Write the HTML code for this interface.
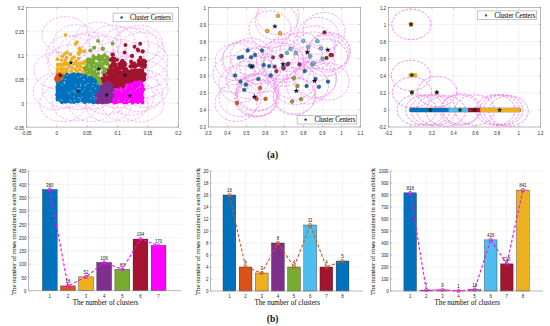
<!DOCTYPE html>
<html><head><meta charset="utf-8"><style>
html,body{margin:0;padding:0;background:#fff;width:550px;height:326px;overflow:hidden}
svg{display:block}
</style></head><body>
<svg width="550" height="326" viewBox="0 0 550 326">
<defs><clipPath id="c1"><rect x="26.4" y="7.4" width="152" height="119.7"/></clipPath><clipPath id="c2"><rect x="208.3" y="7.4" width="152.2" height="119.6"/></clipPath><clipPath id="c3"><rect x="388.5" y="7.4" width="152" height="119.6"/></clipPath></defs>
<rect width="550" height="326" fill="#fff"/>
<line x1="56.8" y1="7.4" x2="56.8" y2="127.1" stroke="#e6e6e6" stroke-width="0.5" />
<line x1="87.2" y1="7.4" x2="87.2" y2="127.1" stroke="#e6e6e6" stroke-width="0.5" />
<line x1="117.6" y1="7.4" x2="117.6" y2="127.1" stroke="#e6e6e6" stroke-width="0.5" />
<line x1="148" y1="7.4" x2="148" y2="127.1" stroke="#e6e6e6" stroke-width="0.5" />
<line x1="26.4" y1="103.16" x2="178.4" y2="103.16" stroke="#e6e6e6" stroke-width="0.5" />
<line x1="26.4" y1="79.22" x2="178.4" y2="79.22" stroke="#e6e6e6" stroke-width="0.5" />
<line x1="26.4" y1="55.28" x2="178.4" y2="55.28" stroke="#e6e6e6" stroke-width="0.5" />
<line x1="26.4" y1="31.34" x2="178.4" y2="31.34" stroke="#e6e6e6" stroke-width="0.5" />
<line x1="227.33" y1="7.4" x2="227.33" y2="127" stroke="#e6e6e6" stroke-width="0.5" />
<line x1="246.35" y1="7.4" x2="246.35" y2="127" stroke="#e6e6e6" stroke-width="0.5" />
<line x1="265.38" y1="7.4" x2="265.38" y2="127" stroke="#e6e6e6" stroke-width="0.5" />
<line x1="284.4" y1="7.4" x2="284.4" y2="127" stroke="#e6e6e6" stroke-width="0.5" />
<line x1="303.43" y1="7.4" x2="303.43" y2="127" stroke="#e6e6e6" stroke-width="0.5" />
<line x1="322.45" y1="7.4" x2="322.45" y2="127" stroke="#e6e6e6" stroke-width="0.5" />
<line x1="341.48" y1="7.4" x2="341.48" y2="127" stroke="#e6e6e6" stroke-width="0.5" />
<line x1="208.3" y1="109.91" x2="360.5" y2="109.91" stroke="#e6e6e6" stroke-width="0.5" />
<line x1="208.3" y1="92.83" x2="360.5" y2="92.83" stroke="#e6e6e6" stroke-width="0.5" />
<line x1="208.3" y1="75.74" x2="360.5" y2="75.74" stroke="#e6e6e6" stroke-width="0.5" />
<line x1="208.3" y1="58.66" x2="360.5" y2="58.66" stroke="#e6e6e6" stroke-width="0.5" />
<line x1="208.3" y1="41.57" x2="360.5" y2="41.57" stroke="#e6e6e6" stroke-width="0.5" />
<line x1="208.3" y1="24.49" x2="360.5" y2="24.49" stroke="#e6e6e6" stroke-width="0.5" />
<line x1="410.21" y1="7.4" x2="410.21" y2="127" stroke="#e6e6e6" stroke-width="0.5" />
<line x1="431.93" y1="7.4" x2="431.93" y2="127" stroke="#e6e6e6" stroke-width="0.5" />
<line x1="453.64" y1="7.4" x2="453.64" y2="127" stroke="#e6e6e6" stroke-width="0.5" />
<line x1="475.36" y1="7.4" x2="475.36" y2="127" stroke="#e6e6e6" stroke-width="0.5" />
<line x1="497.07" y1="7.4" x2="497.07" y2="127" stroke="#e6e6e6" stroke-width="0.5" />
<line x1="518.79" y1="7.4" x2="518.79" y2="127" stroke="#e6e6e6" stroke-width="0.5" />
<line x1="388.5" y1="109.91" x2="540.5" y2="109.91" stroke="#e6e6e6" stroke-width="0.5" />
<line x1="388.5" y1="92.83" x2="540.5" y2="92.83" stroke="#e6e6e6" stroke-width="0.5" />
<line x1="388.5" y1="75.74" x2="540.5" y2="75.74" stroke="#e6e6e6" stroke-width="0.5" />
<line x1="388.5" y1="58.66" x2="540.5" y2="58.66" stroke="#e6e6e6" stroke-width="0.5" />
<line x1="388.5" y1="41.57" x2="540.5" y2="41.57" stroke="#e6e6e6" stroke-width="0.5" />
<line x1="388.5" y1="24.49" x2="540.5" y2="24.49" stroke="#e6e6e6" stroke-width="0.5" />
<g clip-path="url(#c1)">
<ellipse cx="65.32" cy="34.9" rx="23.2" ry="18.3" fill="none" stroke="#f296f2" stroke-width="0.7" stroke-dasharray="2.6,1.4"/>
<ellipse cx="76.43" cy="42.94" rx="23.2" ry="18.3" fill="none" stroke="#f296f2" stroke-width="0.7" stroke-dasharray="2.6,1.4"/>
<ellipse cx="97.62" cy="40.38" rx="23.2" ry="18.3" fill="none" stroke="#f296f2" stroke-width="0.7" stroke-dasharray="2.6,1.4"/>
<ellipse cx="112.14" cy="43.52" rx="23.2" ry="18.3" fill="none" stroke="#f296f2" stroke-width="0.7" stroke-dasharray="2.6,1.4"/>
<ellipse cx="125.27" cy="45.17" rx="23.2" ry="18.3" fill="none" stroke="#f296f2" stroke-width="0.7" stroke-dasharray="2.6,1.4"/>
<ellipse cx="139.22" cy="43.51" rx="23.2" ry="18.3" fill="none" stroke="#f296f2" stroke-width="0.7" stroke-dasharray="2.6,1.4"/>
<ellipse cx="135.22" cy="46.28" rx="23.2" ry="18.3" fill="none" stroke="#f296f2" stroke-width="0.7" stroke-dasharray="2.6,1.4"/>
<ellipse cx="90.41" cy="50.38" rx="23.2" ry="18.3" fill="none" stroke="#f296f2" stroke-width="0.7" stroke-dasharray="2.6,1.4"/>
<ellipse cx="69.57" cy="53.98" rx="23.2" ry="18.3" fill="none" stroke="#f296f2" stroke-width="0.7" stroke-dasharray="2.6,1.4"/>
<ellipse cx="81.59" cy="52.54" rx="23.2" ry="18.3" fill="none" stroke="#f296f2" stroke-width="0.7" stroke-dasharray="2.6,1.4"/>
<ellipse cx="103.32" cy="54.13" rx="23.2" ry="18.3" fill="none" stroke="#f296f2" stroke-width="0.7" stroke-dasharray="2.6,1.4"/>
<ellipse cx="120.74" cy="57.88" rx="23.2" ry="18.3" fill="none" stroke="#f296f2" stroke-width="0.7" stroke-dasharray="2.6,1.4"/>
<ellipse cx="141.12" cy="50.78" rx="23.2" ry="18.3" fill="none" stroke="#f296f2" stroke-width="0.7" stroke-dasharray="2.6,1.4"/>
<ellipse cx="57.28" cy="70.47" rx="23.2" ry="18.3" fill="none" stroke="#f296f2" stroke-width="0.7" stroke-dasharray="2.6,1.4"/>
<ellipse cx="56.22" cy="91.45" rx="23.2" ry="18.3" fill="none" stroke="#f296f2" stroke-width="0.7" stroke-dasharray="2.6,1.4"/>
<ellipse cx="62.92" cy="103.48" rx="23.2" ry="18.3" fill="none" stroke="#f296f2" stroke-width="0.7" stroke-dasharray="2.6,1.4"/>
<ellipse cx="75.31" cy="102.67" rx="23.2" ry="18.3" fill="none" stroke="#f296f2" stroke-width="0.7" stroke-dasharray="2.6,1.4"/>
<ellipse cx="91.7" cy="103.35" rx="23.2" ry="18.3" fill="none" stroke="#f296f2" stroke-width="0.7" stroke-dasharray="2.6,1.4"/>
<ellipse cx="108.23" cy="103.7" rx="23.2" ry="18.3" fill="none" stroke="#f296f2" stroke-width="0.7" stroke-dasharray="2.6,1.4"/>
<ellipse cx="124.64" cy="103.04" rx="23.2" ry="18.3" fill="none" stroke="#f296f2" stroke-width="0.7" stroke-dasharray="2.6,1.4"/>
<ellipse cx="140.48" cy="103.49" rx="23.2" ry="18.3" fill="none" stroke="#f296f2" stroke-width="0.7" stroke-dasharray="2.6,1.4"/>
<ellipse cx="144.52" cy="59.95" rx="23.2" ry="18.3" fill="none" stroke="#f296f2" stroke-width="0.7" stroke-dasharray="2.6,1.4"/>
<ellipse cx="144.57" cy="70.42" rx="23.2" ry="18.3" fill="none" stroke="#f296f2" stroke-width="0.7" stroke-dasharray="2.6,1.4"/>
<ellipse cx="144.83" cy="79.25" rx="23.2" ry="18.3" fill="none" stroke="#f296f2" stroke-width="0.7" stroke-dasharray="2.6,1.4"/>
<ellipse cx="144.74" cy="89.01" rx="23.2" ry="18.3" fill="none" stroke="#f296f2" stroke-width="0.7" stroke-dasharray="2.6,1.4"/>
<ellipse cx="78.53" cy="91.17" rx="23.2" ry="18.3" fill="none" stroke="#f296f2" stroke-width="0.7" stroke-dasharray="2.6,1.4"/>
<ellipse cx="107" cy="95.93" rx="23.2" ry="18.3" fill="none" stroke="#f296f2" stroke-width="0.7" stroke-dasharray="2.6,1.4"/>
<ellipse cx="125.14" cy="74.84" rx="23.2" ry="18.3" fill="none" stroke="#f296f2" stroke-width="0.7" stroke-dasharray="2.6,1.4"/>
<ellipse cx="130.57" cy="96.75" rx="23.2" ry="18.3" fill="none" stroke="#f296f2" stroke-width="0.7" stroke-dasharray="2.6,1.4"/>
<ellipse cx="99.21" cy="68.76" rx="23.2" ry="18.3" fill="none" stroke="#f296f2" stroke-width="0.7" stroke-dasharray="2.6,1.4"/>
<ellipse cx="70.9" cy="62.92" rx="23.2" ry="18.3" fill="none" stroke="#f296f2" stroke-width="0.7" stroke-dasharray="2.6,1.4"/>
<ellipse cx="88.45" cy="79.59" rx="23.2" ry="18.3" fill="none" stroke="#f296f2" stroke-width="0.7" stroke-dasharray="2.6,1.4"/>
<ellipse cx="114.78" cy="70.11" rx="23.2" ry="18.3" fill="none" stroke="#f296f2" stroke-width="0.7" stroke-dasharray="2.6,1.4"/>
<ellipse cx="134.77" cy="84.64" rx="23.2" ry="18.3" fill="none" stroke="#f296f2" stroke-width="0.7" stroke-dasharray="2.6,1.4"/>
<ellipse cx="65.57" cy="89.7" rx="23.2" ry="18.3" fill="none" stroke="#f296f2" stroke-width="0.7" stroke-dasharray="2.6,1.4"/>
<ellipse cx="92" cy="90.89" rx="23.2" ry="18.3" fill="none" stroke="#f296f2" stroke-width="0.7" stroke-dasharray="2.6,1.4"/>
<ellipse cx="117.37" cy="89.61" rx="23.2" ry="18.3" fill="none" stroke="#f296f2" stroke-width="0.7" stroke-dasharray="2.6,1.4"/>
<ellipse cx="139.29" cy="93.15" rx="23.2" ry="18.3" fill="none" stroke="#f296f2" stroke-width="0.7" stroke-dasharray="2.6,1.4"/>
</g>
<polygon points="106,80 110,73 120,71 135,69 144,68 144.5,81.5 136,82 133,83.5 126,84.5 125,87 120,88.5 115,88.5 113,86 110,83.5" fill="#A2142F"/>
<polygon points="57.3,88 57.5,83 59,81 61,80 62.5,78 64,75.5 68,74 75,73.3 82,73.3 86,74.5 90,76.5 94,79.5 97,81.5 99.3,84 99,88 97.5,95 96.5,100 96.5,102.3 60,102.3 58,101 57.3,99" fill="#0072BD"/>
<polygon points="96.5,102.8 96.5,99 97.5,93 99,87 100,84 104,83.3 110,83.5 113,86 115,88.5 114,92 113,97 113,102.8" fill="#7E2F8E"/>
<polygon points="113,102.8 113,97 114,92 115,89 120,88.5 125,87 126,84.5 133,83.5 136,82 142,81.5 143.3,83 143.5,93 143.3,102.8" fill="#FF00FF"/>
<polygon points="55.5,76 57,73.5 60,72.5 62.5,73.5 63,75.5 61.5,78 60,80 58,81.5 56,83.5 55.3,81" fill="#D95319"/>
<circle cx="79.8" cy="48.9" r="1.85" fill="#EDB120"/>
<circle cx="79.8" cy="51.4" r="1.85" fill="#EDB120"/>
<circle cx="84.5" cy="51.4" r="1.85" fill="#EDB120"/>
<circle cx="78.9" cy="54" r="1.85" fill="#EDB120"/>
<circle cx="66.9" cy="52.3" r="1.85" fill="#EDB120"/>
<circle cx="64.7" cy="54" r="1.85" fill="#EDB120"/>
<circle cx="70.3" cy="54.4" r="1.85" fill="#EDB120"/>
<circle cx="62.2" cy="56.2" r="1.85" fill="#EDB120"/>
<circle cx="57.4" cy="59.2" r="1.85" fill="#EDB120"/>
<circle cx="74.2" cy="57" r="1.85" fill="#EDB120"/>
<circle cx="72" cy="58.7" r="1.85" fill="#EDB120"/>
<circle cx="66.5" cy="57.5" r="1.85" fill="#EDB120"/>
<circle cx="61.7" cy="60" r="1.85" fill="#EDB120"/>
<circle cx="65.2" cy="60.5" r="1.85" fill="#EDB120"/>
<circle cx="75.9" cy="61.3" r="1.85" fill="#EDB120"/>
<circle cx="74.2" cy="63.9" r="1.85" fill="#EDB120"/>
<circle cx="78.9" cy="63.9" r="1.85" fill="#EDB120"/>
<circle cx="81.5" cy="63" r="1.85" fill="#EDB120"/>
<circle cx="57.9" cy="66" r="1.85" fill="#EDB120"/>
<circle cx="61.7" cy="65.2" r="1.85" fill="#EDB120"/>
<circle cx="65.2" cy="64.3" r="1.85" fill="#EDB120"/>
<circle cx="67.7" cy="64.8" r="1.85" fill="#EDB120"/>
<circle cx="69.9" cy="66.5" r="1.85" fill="#EDB120"/>
<circle cx="72.5" cy="67.8" r="1.85" fill="#EDB120"/>
<circle cx="77.2" cy="66.5" r="1.85" fill="#EDB120"/>
<circle cx="80.6" cy="66.5" r="1.85" fill="#EDB120"/>
<circle cx="83.6" cy="67.8" r="1.85" fill="#EDB120"/>
<circle cx="57.4" cy="69.5" r="1.85" fill="#EDB120"/>
<circle cx="60.9" cy="68.6" r="1.85" fill="#EDB120"/>
<circle cx="64.3" cy="68.6" r="1.85" fill="#EDB120"/>
<circle cx="67.3" cy="69" r="1.85" fill="#EDB120"/>
<circle cx="75.5" cy="69.5" r="1.85" fill="#EDB120"/>
<circle cx="79.8" cy="69.5" r="1.85" fill="#EDB120"/>
<circle cx="84.5" cy="70.8" r="1.85" fill="#EDB120"/>
<circle cx="57.4" cy="72" r="1.85" fill="#EDB120"/>
<circle cx="61.3" cy="71.6" r="1.85" fill="#EDB120"/>
<circle cx="66" cy="71.6" r="1.85" fill="#EDB120"/>
<circle cx="71.2" cy="71.2" r="1.85" fill="#EDB120"/>
<circle cx="77.2" cy="71.6" r="1.85" fill="#EDB120"/>
<circle cx="84.5" cy="72.9" r="1.85" fill="#EDB120"/>
<circle cx="65.4" cy="34.8" r="1.85" fill="#EDB120"/>
<circle cx="75.5" cy="43.8" r="1.85" fill="#EDB120"/>
<circle cx="76.9" cy="42.2" r="1.85" fill="#EDB120"/>
<circle cx="79.6" cy="48.7" r="1.85" fill="#EDB120"/>
<circle cx="81" cy="51.2" r="1.85" fill="#EDB120"/>
<circle cx="84.2" cy="51.2" r="1.85" fill="#EDB120"/>
<circle cx="78.3" cy="53.6" r="1.85" fill="#EDB120"/>
<circle cx="62.64" cy="70.17" r="1.85" fill="#EDB120"/>
<circle cx="64.85" cy="73.23" r="1.85" fill="#EDB120"/>
<circle cx="70.87" cy="61" r="1.85" fill="#EDB120"/>
<circle cx="62.7" cy="64.67" r="1.85" fill="#EDB120"/>
<circle cx="75.96" cy="73.18" r="1.85" fill="#EDB120"/>
<circle cx="60.39" cy="64.3" r="1.85" fill="#EDB120"/>
<circle cx="62.39" cy="73.59" r="1.85" fill="#EDB120"/>
<circle cx="57.8" cy="64.29" r="1.85" fill="#EDB120"/>
<circle cx="82.95" cy="72.14" r="1.85" fill="#EDB120"/>
<circle cx="83.95" cy="63.27" r="1.85" fill="#EDB120"/>
<circle cx="61.57" cy="72.97" r="1.85" fill="#EDB120"/>
<circle cx="78.39" cy="58.51" r="1.85" fill="#EDB120"/>
<circle cx="75.93" cy="64.06" r="1.85" fill="#EDB120"/>
<circle cx="67.22" cy="63.31" r="1.85" fill="#EDB120"/>
<circle cx="64.39" cy="63.62" r="1.85" fill="#EDB120"/>
<circle cx="84.93" cy="61.32" r="1.85" fill="#EDB120"/>
<circle cx="98" cy="40.9" r="1.95" fill="#77AC30"/>
<circle cx="112.7" cy="43.5" r="1.95" fill="#77AC30"/>
<circle cx="94" cy="47.6" r="1.95" fill="#77AC30"/>
<circle cx="90.3" cy="50.4" r="1.95" fill="#77AC30"/>
<circle cx="102.9" cy="48.7" r="1.95" fill="#77AC30"/>
<circle cx="102.6" cy="48.6" r="1.95" fill="#77AC30"/>
<circle cx="96.2" cy="57.9" r="1.95" fill="#77AC30"/>
<circle cx="104.6" cy="55.3" r="1.95" fill="#77AC30"/>
<circle cx="107.2" cy="57.3" r="1.95" fill="#77AC30"/>
<circle cx="94.3" cy="47.6" r="1.95" fill="#77AC30"/>
<circle cx="93.08" cy="59.45" r="1.95" fill="#77AC30"/>
<circle cx="101.75" cy="57.14" r="1.95" fill="#77AC30"/>
<circle cx="98.7" cy="65.79" r="1.95" fill="#77AC30"/>
<circle cx="86.04" cy="69.97" r="1.95" fill="#77AC30"/>
<circle cx="85.49" cy="67.79" r="1.95" fill="#77AC30"/>
<circle cx="95.75" cy="79.39" r="1.95" fill="#77AC30"/>
<circle cx="87.78" cy="61.59" r="1.95" fill="#77AC30"/>
<circle cx="101.13" cy="82.96" r="1.95" fill="#77AC30"/>
<circle cx="99.79" cy="66.7" r="1.95" fill="#77AC30"/>
<circle cx="107.25" cy="63.54" r="1.95" fill="#77AC30"/>
<circle cx="89.29" cy="72.16" r="1.95" fill="#77AC30"/>
<circle cx="101.43" cy="65.99" r="1.95" fill="#77AC30"/>
<circle cx="99.02" cy="56.85" r="1.95" fill="#77AC30"/>
<circle cx="102.53" cy="67.61" r="1.95" fill="#77AC30"/>
<circle cx="92.82" cy="72.27" r="1.95" fill="#77AC30"/>
<circle cx="96.51" cy="63.84" r="1.95" fill="#77AC30"/>
<circle cx="90.97" cy="71.95" r="1.95" fill="#77AC30"/>
<circle cx="98.42" cy="80.82" r="1.95" fill="#77AC30"/>
<circle cx="103.83" cy="63.49" r="1.95" fill="#77AC30"/>
<circle cx="95.58" cy="77.34" r="1.95" fill="#77AC30"/>
<circle cx="88.53" cy="69.42" r="1.95" fill="#77AC30"/>
<circle cx="104.76" cy="71.9" r="1.95" fill="#77AC30"/>
<circle cx="107.7" cy="64.26" r="1.95" fill="#77AC30"/>
<circle cx="102.93" cy="72.53" r="1.95" fill="#77AC30"/>
<circle cx="99.87" cy="68.46" r="1.95" fill="#77AC30"/>
<circle cx="97.06" cy="74.59" r="1.95" fill="#77AC30"/>
<circle cx="106.28" cy="63.4" r="1.95" fill="#77AC30"/>
<circle cx="94.72" cy="74.73" r="1.95" fill="#77AC30"/>
<circle cx="85.1" cy="68.62" r="1.95" fill="#77AC30"/>
<circle cx="87.93" cy="62.3" r="1.95" fill="#77AC30"/>
<circle cx="86.64" cy="68.25" r="1.95" fill="#77AC30"/>
<circle cx="99.06" cy="81.06" r="1.95" fill="#77AC30"/>
<circle cx="91.88" cy="67.25" r="1.95" fill="#77AC30"/>
<circle cx="109.88" cy="59.45" r="1.95" fill="#77AC30"/>
<circle cx="89.17" cy="61.84" r="1.95" fill="#77AC30"/>
<circle cx="90.68" cy="69.31" r="1.95" fill="#77AC30"/>
<circle cx="100.11" cy="62.75" r="1.95" fill="#77AC30"/>
<circle cx="94.29" cy="71.71" r="1.95" fill="#77AC30"/>
<circle cx="98.16" cy="73.22" r="1.95" fill="#77AC30"/>
<circle cx="102.42" cy="56.59" r="1.95" fill="#77AC30"/>
<circle cx="94.9" cy="66.77" r="1.95" fill="#77AC30"/>
<circle cx="87.24" cy="73.71" r="1.95" fill="#77AC30"/>
<circle cx="90.03" cy="59.79" r="1.95" fill="#77AC30"/>
<circle cx="93.51" cy="56.55" r="1.95" fill="#77AC30"/>
<circle cx="87.19" cy="65.73" r="1.95" fill="#77AC30"/>
<circle cx="100.77" cy="59.38" r="1.95" fill="#77AC30"/>
<circle cx="91.18" cy="65.25" r="1.95" fill="#77AC30"/>
<circle cx="94.15" cy="58.62" r="1.95" fill="#77AC30"/>
<circle cx="96.85" cy="69.27" r="1.95" fill="#77AC30"/>
<circle cx="93.58" cy="62.81" r="1.95" fill="#77AC30"/>
<circle cx="106.46" cy="59.76" r="1.95" fill="#77AC30"/>
<circle cx="98.5" cy="59.32" r="1.95" fill="#77AC30"/>
<circle cx="98.89" cy="55.8" r="1.95" fill="#77AC30"/>
<circle cx="91.42" cy="65.82" r="1.95" fill="#77AC30"/>
<circle cx="98.61" cy="77.98" r="1.95" fill="#77AC30"/>
<circle cx="93.24" cy="61.58" r="1.95" fill="#77AC30"/>
<circle cx="90.51" cy="70.27" r="1.95" fill="#77AC30"/>
<circle cx="91.37" cy="75.43" r="1.95" fill="#77AC30"/>
<circle cx="109.85" cy="68.19" r="1.95" fill="#77AC30"/>
<circle cx="109.81" cy="65.76" r="1.95" fill="#77AC30"/>
<circle cx="90.34" cy="61.69" r="1.95" fill="#77AC30"/>
<circle cx="89.71" cy="61.03" r="1.95" fill="#77AC30"/>
<circle cx="101.04" cy="81.56" r="1.95" fill="#77AC30"/>
<circle cx="106.77" cy="69.14" r="1.95" fill="#77AC30"/>
<circle cx="101.8" cy="78.59" r="1.95" fill="#77AC30"/>
<circle cx="86.75" cy="74.49" r="1.95" fill="#77AC30"/>
<circle cx="104.38" cy="69.1" r="1.95" fill="#77AC30"/>
<circle cx="93.31" cy="78.62" r="1.95" fill="#77AC30"/>
<circle cx="103.71" cy="60.02" r="1.95" fill="#77AC30"/>
<circle cx="87.87" cy="59.46" r="1.95" fill="#77AC30"/>
<circle cx="93.79" cy="71.19" r="1.95" fill="#77AC30"/>
<circle cx="98.45" cy="82.54" r="1.95" fill="#77AC30"/>
<circle cx="96" cy="80.72" r="1.95" fill="#77AC30"/>
<circle cx="106.39" cy="61.23" r="1.95" fill="#77AC30"/>
<circle cx="91.17" cy="63.64" r="1.95" fill="#77AC30"/>
<circle cx="125.5" cy="45" r="1.95" fill="#A2142F"/>
<circle cx="134.5" cy="46.8" r="1.95" fill="#A2142F"/>
<circle cx="140.2" cy="43.8" r="1.95" fill="#A2142F"/>
<circle cx="137.7" cy="49.5" r="1.95" fill="#A2142F"/>
<circle cx="142.7" cy="51.2" r="1.95" fill="#A2142F"/>
<circle cx="124.6" cy="52.5" r="1.95" fill="#A2142F"/>
<circle cx="132" cy="55.8" r="1.95" fill="#A2142F"/>
<circle cx="112.4" cy="54.5" r="1.95" fill="#A2142F"/>
<circle cx="113.2" cy="58.6" r="1.95" fill="#A2142F"/>
<circle cx="113" cy="54.7" r="1.95" fill="#A2142F"/>
<circle cx="112.3" cy="58.5" r="1.95" fill="#A2142F"/>
<circle cx="113" cy="65.6" r="1.95" fill="#A2142F"/>
<circle cx="111.7" cy="69.5" r="1.95" fill="#A2142F"/>
<circle cx="104.6" cy="75.3" r="1.95" fill="#A2142F"/>
<circle cx="102.6" cy="78.5" r="1.95" fill="#A2142F"/>
<circle cx="107.8" cy="77.3" r="1.95" fill="#A2142F"/>
<circle cx="111.7" cy="75.3" r="1.95" fill="#A2142F"/>
<circle cx="138.2" cy="50.6" r="1.95" fill="#A2142F"/>
<circle cx="142.5" cy="51.5" r="1.95" fill="#A2142F"/>
<circle cx="132" cy="56.1" r="1.95" fill="#A2142F"/>
<circle cx="112.58" cy="75.47" r="1.95" fill="#A2142F"/>
<circle cx="113.41" cy="70.2" r="1.95" fill="#A2142F"/>
<circle cx="117.57" cy="71.43" r="1.95" fill="#A2142F"/>
<circle cx="120.51" cy="85.91" r="1.95" fill="#A2142F"/>
<circle cx="124.07" cy="73.75" r="1.95" fill="#A2142F"/>
<circle cx="121.37" cy="62.77" r="1.95" fill="#A2142F"/>
<circle cx="109.58" cy="71.92" r="1.95" fill="#A2142F"/>
<circle cx="133.91" cy="74.53" r="1.95" fill="#A2142F"/>
<circle cx="116.34" cy="73.33" r="1.95" fill="#A2142F"/>
<circle cx="126.44" cy="81.7" r="1.95" fill="#A2142F"/>
<circle cx="112.93" cy="65.72" r="1.95" fill="#A2142F"/>
<circle cx="135.98" cy="72.99" r="1.95" fill="#A2142F"/>
<circle cx="126.72" cy="80.94" r="1.95" fill="#A2142F"/>
<circle cx="142.15" cy="70.96" r="1.95" fill="#A2142F"/>
<circle cx="128.95" cy="72.92" r="1.95" fill="#A2142F"/>
<circle cx="124.54" cy="78.82" r="1.95" fill="#A2142F"/>
<circle cx="121.9" cy="73.8" r="1.95" fill="#A2142F"/>
<circle cx="123.03" cy="86.66" r="1.95" fill="#A2142F"/>
<circle cx="143.46" cy="65.18" r="1.95" fill="#A2142F"/>
<circle cx="138.96" cy="61.32" r="1.95" fill="#A2142F"/>
<circle cx="105.22" cy="78.09" r="1.95" fill="#A2142F"/>
<circle cx="108.8" cy="79.56" r="1.95" fill="#A2142F"/>
<circle cx="131.05" cy="61.5" r="1.95" fill="#A2142F"/>
<circle cx="119.52" cy="72.35" r="1.95" fill="#A2142F"/>
<circle cx="109.1" cy="70.59" r="1.95" fill="#A2142F"/>
<circle cx="124.69" cy="67.68" r="1.95" fill="#A2142F"/>
<circle cx="110.61" cy="67.03" r="1.95" fill="#A2142F"/>
<circle cx="126.38" cy="70.87" r="1.95" fill="#A2142F"/>
<circle cx="129.45" cy="73.14" r="1.95" fill="#A2142F"/>
<circle cx="103.74" cy="81.54" r="1.95" fill="#A2142F"/>
<circle cx="113.9" cy="61.08" r="1.95" fill="#A2142F"/>
<circle cx="120.58" cy="85.71" r="1.95" fill="#A2142F"/>
<circle cx="138.04" cy="65.15" r="1.95" fill="#A2142F"/>
<circle cx="127.11" cy="79.06" r="1.95" fill="#A2142F"/>
<circle cx="132.28" cy="70.4" r="1.95" fill="#A2142F"/>
<circle cx="129.92" cy="82.25" r="1.95" fill="#A2142F"/>
<circle cx="121.97" cy="67.68" r="1.95" fill="#A2142F"/>
<circle cx="113.79" cy="61.07" r="1.95" fill="#A2142F"/>
<circle cx="125.18" cy="64.51" r="1.95" fill="#A2142F"/>
<circle cx="115.73" cy="66.61" r="1.95" fill="#A2142F"/>
<circle cx="135.42" cy="66.13" r="1.95" fill="#A2142F"/>
<circle cx="124" cy="62.6" r="1.95" fill="#A2142F"/>
<circle cx="134.26" cy="74.36" r="1.95" fill="#A2142F"/>
<circle cx="110.34" cy="71.95" r="1.95" fill="#A2142F"/>
<circle cx="143.12" cy="60.35" r="1.95" fill="#A2142F"/>
<circle cx="138.03" cy="70.61" r="1.95" fill="#A2142F"/>
<circle cx="123.78" cy="83.29" r="1.95" fill="#A2142F"/>
<circle cx="119.3" cy="72.96" r="1.95" fill="#A2142F"/>
<circle cx="117.08" cy="83.22" r="1.95" fill="#A2142F"/>
<circle cx="133.1" cy="77.03" r="1.95" fill="#A2142F"/>
<circle cx="119.81" cy="67.95" r="1.95" fill="#A2142F"/>
<circle cx="105.11" cy="80.34" r="1.95" fill="#A2142F"/>
<circle cx="113.25" cy="62.14" r="1.95" fill="#A2142F"/>
<circle cx="140.3" cy="78.12" r="1.95" fill="#A2142F"/>
<circle cx="114.41" cy="64.63" r="1.95" fill="#A2142F"/>
<circle cx="114.89" cy="71.47" r="1.95" fill="#A2142F"/>
<circle cx="108.93" cy="71.04" r="1.95" fill="#A2142F"/>
<circle cx="144.8" cy="74.23" r="1.95" fill="#A2142F"/>
<circle cx="115.62" cy="68.23" r="1.95" fill="#A2142F"/>
<circle cx="122.88" cy="72.84" r="1.95" fill="#A2142F"/>
<circle cx="110.84" cy="72.9" r="1.95" fill="#A2142F"/>
<circle cx="115.39" cy="64.33" r="1.95" fill="#A2142F"/>
<circle cx="127.77" cy="73.67" r="1.95" fill="#A2142F"/>
<circle cx="135.02" cy="77.71" r="1.95" fill="#A2142F"/>
<circle cx="119.14" cy="67.27" r="1.95" fill="#A2142F"/>
<circle cx="145.33" cy="61.71" r="1.95" fill="#A2142F"/>
<circle cx="133.86" cy="77.26" r="1.95" fill="#A2142F"/>
<circle cx="141.25" cy="76.76" r="1.95" fill="#A2142F"/>
<circle cx="134.29" cy="82.58" r="1.95" fill="#A2142F"/>
<circle cx="108.13" cy="73.5" r="1.95" fill="#A2142F"/>
<circle cx="124.19" cy="83.3" r="1.95" fill="#A2142F"/>
<circle cx="132.05" cy="78.84" r="1.95" fill="#A2142F"/>
<circle cx="106.62" cy="83.33" r="1.95" fill="#A2142F"/>
<circle cx="126.58" cy="76.77" r="1.95" fill="#A2142F"/>
<circle cx="129.55" cy="78.44" r="1.95" fill="#A2142F"/>
<circle cx="137.1" cy="80.57" r="1.95" fill="#A2142F"/>
<circle cx="124.13" cy="73.86" r="1.95" fill="#A2142F"/>
<circle cx="134.42" cy="64.94" r="1.95" fill="#A2142F"/>
<circle cx="134.09" cy="63.46" r="1.95" fill="#A2142F"/>
<circle cx="123.73" cy="69.05" r="1.95" fill="#A2142F"/>
<circle cx="123.08" cy="78.54" r="1.95" fill="#A2142F"/>
<circle cx="135.75" cy="76.43" r="1.95" fill="#A2142F"/>
<circle cx="134.7" cy="66.59" r="1.95" fill="#A2142F"/>
<circle cx="131.57" cy="78.8" r="1.95" fill="#A2142F"/>
<circle cx="131.73" cy="66.16" r="1.95" fill="#A2142F"/>
<circle cx="124.73" cy="71.64" r="1.95" fill="#A2142F"/>
<circle cx="122.52" cy="60.73" r="1.95" fill="#A2142F"/>
<circle cx="141.32" cy="63.28" r="1.95" fill="#A2142F"/>
<circle cx="121.78" cy="65.46" r="1.95" fill="#A2142F"/>
<circle cx="111.27" cy="75.32" r="1.95" fill="#A2142F"/>
<circle cx="108.24" cy="73.51" r="1.95" fill="#A2142F"/>
<circle cx="143.92" cy="61.18" r="1.95" fill="#A2142F"/>
<circle cx="138.09" cy="73.03" r="1.95" fill="#A2142F"/>
<circle cx="141.02" cy="79.16" r="1.95" fill="#A2142F"/>
<circle cx="112.18" cy="85.28" r="1.95" fill="#A2142F"/>
<circle cx="121.83" cy="66.51" r="1.95" fill="#A2142F"/>
<circle cx="115.91" cy="83.47" r="1.95" fill="#A2142F"/>
<circle cx="138.92" cy="60.78" r="1.95" fill="#A2142F"/>
<circle cx="142.76" cy="79.46" r="1.95" fill="#A2142F"/>
<circle cx="141.67" cy="66.13" r="1.95" fill="#A2142F"/>
<circle cx="118.38" cy="69.38" r="1.95" fill="#A2142F"/>
<circle cx="117.87" cy="70.48" r="1.95" fill="#A2142F"/>
<circle cx="114.11" cy="58.52" r="1.95" fill="#A2142F"/>
<circle cx="106.48" cy="83.29" r="1.95" fill="#A2142F"/>
<circle cx="114.57" cy="86.47" r="1.95" fill="#A2142F"/>
<circle cx="112.97" cy="65.37" r="1.95" fill="#A2142F"/>
<circle cx="124.48" cy="62.98" r="1.95" fill="#A2142F"/>
<circle cx="118.43" cy="87.12" r="1.95" fill="#A2142F"/>
<circle cx="143.39" cy="74.3" r="1.95" fill="#A2142F"/>
<circle cx="134.22" cy="71.2" r="1.95" fill="#A2142F"/>
<circle cx="135.12" cy="77.3" r="1.95" fill="#A2142F"/>
<circle cx="142.78" cy="61.01" r="1.95" fill="#A2142F"/>
<circle cx="122.78" cy="67.83" r="1.95" fill="#A2142F"/>
<circle cx="115.1" cy="80.28" r="1.95" fill="#A2142F"/>
<circle cx="144.96" cy="65.2" r="1.95" fill="#A2142F"/>
<circle cx="130.86" cy="66.48" r="1.95" fill="#A2142F"/>
<circle cx="126.52" cy="69.42" r="1.95" fill="#A2142F"/>
<circle cx="123.87" cy="63.93" r="1.95" fill="#A2142F"/>
<circle cx="121.8" cy="61.4" r="1.95" fill="#A2142F"/>
<circle cx="110.47" cy="59.86" r="1.95" fill="#A2142F"/>
<circle cx="117.05" cy="59.87" r="1.95" fill="#A2142F"/>
<circle cx="112.52" cy="65.14" r="1.95" fill="#A2142F"/>
<circle cx="134.98" cy="70" r="1.95" fill="#A2142F"/>
<circle cx="120.21" cy="73.51" r="1.95" fill="#A2142F"/>
<circle cx="118.58" cy="67.65" r="1.95" fill="#A2142F"/>
<circle cx="144.58" cy="60.97" r="1.95" fill="#A2142F"/>
<circle cx="124.15" cy="76.83" r="1.95" fill="#A2142F"/>
<circle cx="139.97" cy="63.8" r="1.95" fill="#A2142F"/>
<circle cx="113.92" cy="64.83" r="1.95" fill="#A2142F"/>
<circle cx="119.59" cy="71.04" r="1.95" fill="#A2142F"/>
<circle cx="140.41" cy="57.69" r="1.95" fill="#A2142F"/>
<circle cx="141.41" cy="71.91" r="1.95" fill="#A2142F"/>
<circle cx="119.23" cy="86.2" r="1.95" fill="#A2142F"/>
<circle cx="144.78" cy="64.83" r="1.95" fill="#A2142F"/>
<circle cx="124.98" cy="78.49" r="1.95" fill="#A2142F"/>
<circle cx="143.43" cy="79.73" r="1.95" fill="#A2142F"/>
<circle cx="130.48" cy="81.09" r="1.95" fill="#A2142F"/>
<circle cx="122.12" cy="74.37" r="1.95" fill="#A2142F"/>
<circle cx="103.74" cy="81.64" r="1.95" fill="#A2142F"/>
<circle cx="130.4" cy="66.57" r="1.95" fill="#A2142F"/>
<circle cx="130" cy="79.01" r="1.95" fill="#A2142F"/>
<circle cx="125.08" cy="75.36" r="1.95" fill="#A2142F"/>
<circle cx="119.08" cy="64.04" r="1.95" fill="#A2142F"/>
<circle cx="115.27" cy="71.51" r="1.95" fill="#A2142F"/>
<circle cx="144.19" cy="77.3" r="1.95" fill="#A2142F"/>
<circle cx="140.89" cy="71.97" r="1.95" fill="#A2142F"/>
<circle cx="112.33" cy="64.78" r="1.95" fill="#A2142F"/>
<circle cx="144.27" cy="79.2" r="1.95" fill="#A2142F"/>
<circle cx="123.93" cy="78.25" r="1.95" fill="#A2142F"/>
<circle cx="120.48" cy="65.1" r="1.95" fill="#A2142F"/>
<circle cx="116.87" cy="70.25" r="1.95" fill="#A2142F"/>
<circle cx="132.03" cy="63.24" r="1.95" fill="#A2142F"/>
<circle cx="137.07" cy="80.28" r="1.95" fill="#A2142F"/>
<circle cx="124.21" cy="63.46" r="1.95" fill="#A2142F"/>
<circle cx="144.67" cy="66.82" r="1.95" fill="#A2142F"/>
<circle cx="138.08" cy="64.27" r="1.95" fill="#A2142F"/>
<circle cx="72.28" cy="97.13" r="1.95" fill="#0072BD"/>
<circle cx="91.82" cy="85.84" r="1.95" fill="#0072BD"/>
<circle cx="59.37" cy="87.03" r="1.95" fill="#0072BD"/>
<circle cx="72.95" cy="99.97" r="1.95" fill="#0072BD"/>
<circle cx="65.41" cy="83.86" r="1.95" fill="#0072BD"/>
<circle cx="74.55" cy="96.84" r="1.95" fill="#0072BD"/>
<circle cx="88.69" cy="99.36" r="1.95" fill="#0072BD"/>
<circle cx="71.54" cy="81.2" r="1.95" fill="#0072BD"/>
<circle cx="97.52" cy="91.19" r="1.95" fill="#0072BD"/>
<circle cx="68.31" cy="94.08" r="1.95" fill="#0072BD"/>
<circle cx="70.59" cy="81.29" r="1.95" fill="#0072BD"/>
<circle cx="57.46" cy="95.21" r="1.95" fill="#0072BD"/>
<circle cx="95.79" cy="91.69" r="1.95" fill="#0072BD"/>
<circle cx="67.12" cy="87.08" r="1.95" fill="#0072BD"/>
<circle cx="73.53" cy="80.58" r="1.95" fill="#0072BD"/>
<circle cx="75.36" cy="87.61" r="1.95" fill="#0072BD"/>
<circle cx="91.01" cy="94.72" r="1.95" fill="#0072BD"/>
<circle cx="91.86" cy="95.71" r="1.95" fill="#0072BD"/>
<circle cx="82.8" cy="82.81" r="1.95" fill="#0072BD"/>
<circle cx="70.72" cy="83.79" r="1.95" fill="#0072BD"/>
<circle cx="65.59" cy="95.13" r="1.95" fill="#0072BD"/>
<circle cx="67.69" cy="75.18" r="1.95" fill="#0072BD"/>
<circle cx="58.72" cy="89.33" r="1.95" fill="#0072BD"/>
<circle cx="70.98" cy="101.73" r="1.95" fill="#0072BD"/>
<circle cx="94.41" cy="101.95" r="1.95" fill="#0072BD"/>
<circle cx="68.43" cy="75.74" r="1.95" fill="#0072BD"/>
<circle cx="61.35" cy="87.76" r="1.95" fill="#0072BD"/>
<circle cx="87.11" cy="86.26" r="1.95" fill="#0072BD"/>
<circle cx="67.14" cy="85.39" r="1.95" fill="#0072BD"/>
<circle cx="83.35" cy="92.85" r="1.95" fill="#0072BD"/>
<circle cx="88.72" cy="97.86" r="1.95" fill="#0072BD"/>
<circle cx="85.21" cy="76.81" r="1.95" fill="#0072BD"/>
<circle cx="92.62" cy="81.82" r="1.95" fill="#0072BD"/>
<circle cx="81.11" cy="84.12" r="1.95" fill="#0072BD"/>
<circle cx="88.3" cy="79.08" r="1.95" fill="#0072BD"/>
<circle cx="67.69" cy="80.41" r="1.95" fill="#0072BD"/>
<circle cx="63.74" cy="98.94" r="1.95" fill="#0072BD"/>
<circle cx="81.59" cy="82.76" r="1.95" fill="#0072BD"/>
<circle cx="73.93" cy="102.08" r="1.95" fill="#0072BD"/>
<circle cx="78.61" cy="80.01" r="1.95" fill="#0072BD"/>
<circle cx="91.25" cy="92.25" r="1.95" fill="#0072BD"/>
<circle cx="77.24" cy="97.05" r="1.95" fill="#0072BD"/>
<circle cx="92.6" cy="99.82" r="1.95" fill="#0072BD"/>
<circle cx="59" cy="81.82" r="1.95" fill="#0072BD"/>
<circle cx="62.31" cy="78.8" r="1.95" fill="#0072BD"/>
<circle cx="98.16" cy="90.21" r="1.95" fill="#0072BD"/>
<circle cx="96.37" cy="84.09" r="1.95" fill="#0072BD"/>
<circle cx="93.68" cy="86.32" r="1.95" fill="#0072BD"/>
<circle cx="68.22" cy="95.86" r="1.95" fill="#0072BD"/>
<circle cx="82.34" cy="91.28" r="1.95" fill="#0072BD"/>
<circle cx="66.44" cy="83.99" r="1.95" fill="#0072BD"/>
<circle cx="63.24" cy="79.22" r="1.95" fill="#0072BD"/>
<circle cx="68.01" cy="90.68" r="1.95" fill="#0072BD"/>
<circle cx="84.67" cy="79.2" r="1.95" fill="#0072BD"/>
<circle cx="57.78" cy="82.79" r="1.95" fill="#0072BD"/>
<circle cx="85.79" cy="78.67" r="1.95" fill="#0072BD"/>
<circle cx="70.41" cy="79.2" r="1.95" fill="#0072BD"/>
<circle cx="90.7" cy="89.19" r="1.95" fill="#0072BD"/>
<circle cx="73.9" cy="89.25" r="1.95" fill="#0072BD"/>
<circle cx="84.15" cy="75.94" r="1.95" fill="#0072BD"/>
<circle cx="64.17" cy="93.47" r="1.95" fill="#0072BD"/>
<circle cx="74.51" cy="81.52" r="1.95" fill="#0072BD"/>
<circle cx="70.22" cy="100.94" r="1.95" fill="#0072BD"/>
<circle cx="70.42" cy="89.73" r="1.95" fill="#0072BD"/>
<circle cx="72.3" cy="85.38" r="1.95" fill="#0072BD"/>
<circle cx="93.6" cy="102.2" r="1.95" fill="#0072BD"/>
<circle cx="72.58" cy="79.02" r="1.95" fill="#0072BD"/>
<circle cx="87.88" cy="79.21" r="1.95" fill="#0072BD"/>
<circle cx="57.55" cy="99.45" r="1.95" fill="#0072BD"/>
<circle cx="75.1" cy="97.09" r="1.95" fill="#0072BD"/>
<circle cx="74.36" cy="98.9" r="1.95" fill="#0072BD"/>
<circle cx="76.66" cy="78.01" r="1.95" fill="#0072BD"/>
<circle cx="57.92" cy="89.29" r="1.95" fill="#0072BD"/>
<circle cx="84.21" cy="99.68" r="1.95" fill="#0072BD"/>
<circle cx="61.04" cy="91.34" r="1.95" fill="#0072BD"/>
<circle cx="72.88" cy="87.93" r="1.95" fill="#0072BD"/>
<circle cx="63.43" cy="81.52" r="1.95" fill="#0072BD"/>
<circle cx="79.19" cy="100.14" r="1.95" fill="#0072BD"/>
<circle cx="61.87" cy="87.52" r="1.95" fill="#0072BD"/>
<circle cx="91.1" cy="101.34" r="1.95" fill="#0072BD"/>
<circle cx="65.59" cy="76.97" r="1.95" fill="#0072BD"/>
<circle cx="77.57" cy="74.85" r="1.95" fill="#0072BD"/>
<circle cx="96.2" cy="84.55" r="1.95" fill="#0072BD"/>
<circle cx="95.28" cy="91.29" r="1.95" fill="#0072BD"/>
<circle cx="90.3" cy="79.74" r="1.95" fill="#0072BD"/>
<circle cx="74.29" cy="97.84" r="1.95" fill="#0072BD"/>
<circle cx="92.13" cy="78.61" r="1.95" fill="#0072BD"/>
<circle cx="66.46" cy="84.89" r="1.95" fill="#0072BD"/>
<circle cx="79.05" cy="84.42" r="1.95" fill="#0072BD"/>
<circle cx="62.47" cy="80.46" r="1.95" fill="#0072BD"/>
<circle cx="87.75" cy="99.32" r="1.95" fill="#0072BD"/>
<circle cx="59.03" cy="89.61" r="1.95" fill="#0072BD"/>
<circle cx="82.48" cy="89.25" r="1.95" fill="#0072BD"/>
<circle cx="83.64" cy="82.18" r="1.95" fill="#0072BD"/>
<circle cx="74.94" cy="90.2" r="1.95" fill="#0072BD"/>
<circle cx="75.18" cy="92.41" r="1.95" fill="#0072BD"/>
<circle cx="76.07" cy="86.01" r="1.95" fill="#0072BD"/>
<circle cx="58.28" cy="91.25" r="1.95" fill="#0072BD"/>
<circle cx="77.86" cy="80.12" r="1.95" fill="#0072BD"/>
<circle cx="89.37" cy="95.92" r="1.95" fill="#0072BD"/>
<circle cx="76.55" cy="78.51" r="1.95" fill="#0072BD"/>
<circle cx="77.18" cy="76.41" r="1.95" fill="#0072BD"/>
<circle cx="62.7" cy="85.79" r="1.95" fill="#0072BD"/>
<circle cx="61.15" cy="86.12" r="1.95" fill="#0072BD"/>
<circle cx="78.73" cy="74.48" r="1.95" fill="#0072BD"/>
<circle cx="84.03" cy="75.68" r="1.95" fill="#0072BD"/>
<circle cx="88.11" cy="95.85" r="1.95" fill="#0072BD"/>
<circle cx="78.78" cy="74.87" r="1.95" fill="#0072BD"/>
<circle cx="78.46" cy="84.26" r="1.95" fill="#0072BD"/>
<circle cx="93.3" cy="102.19" r="1.95" fill="#0072BD"/>
<circle cx="88.05" cy="96.93" r="1.95" fill="#0072BD"/>
<circle cx="65.44" cy="101.77" r="1.95" fill="#0072BD"/>
<circle cx="77.96" cy="101.04" r="1.95" fill="#0072BD"/>
<circle cx="90.41" cy="100.29" r="1.95" fill="#0072BD"/>
<circle cx="60.05" cy="83.48" r="1.95" fill="#0072BD"/>
<circle cx="89.06" cy="77.9" r="1.95" fill="#0072BD"/>
<circle cx="94.95" cy="81.27" r="1.95" fill="#0072BD"/>
<circle cx="78.39" cy="99.98" r="1.95" fill="#0072BD"/>
<circle cx="66.05" cy="80.92" r="1.95" fill="#0072BD"/>
<circle cx="78.55" cy="82.55" r="1.95" fill="#0072BD"/>
<circle cx="64.07" cy="100.46" r="1.95" fill="#0072BD"/>
<circle cx="85.85" cy="99.27" r="1.95" fill="#0072BD"/>
<circle cx="64.39" cy="96.06" r="1.95" fill="#0072BD"/>
<circle cx="62.13" cy="88.69" r="1.95" fill="#0072BD"/>
<circle cx="84.03" cy="83.73" r="1.95" fill="#0072BD"/>
<circle cx="93.96" cy="89.4" r="1.95" fill="#0072BD"/>
<circle cx="81.66" cy="98.89" r="1.95" fill="#0072BD"/>
<circle cx="61.69" cy="102.1" r="1.95" fill="#0072BD"/>
<circle cx="83.75" cy="84.73" r="1.95" fill="#0072BD"/>
<circle cx="90.8" cy="80.98" r="1.95" fill="#0072BD"/>
<circle cx="72.43" cy="95.47" r="1.95" fill="#0072BD"/>
<circle cx="75.88" cy="78.43" r="1.95" fill="#0072BD"/>
<circle cx="91.73" cy="80.66" r="1.95" fill="#0072BD"/>
<circle cx="84.15" cy="101.84" r="1.95" fill="#0072BD"/>
<circle cx="81.91" cy="92.55" r="1.95" fill="#0072BD"/>
<circle cx="83.17" cy="85.83" r="1.95" fill="#0072BD"/>
<circle cx="78.83" cy="99.27" r="1.95" fill="#0072BD"/>
<circle cx="62.84" cy="79.89" r="1.95" fill="#0072BD"/>
<circle cx="61.77" cy="83.66" r="1.95" fill="#0072BD"/>
<circle cx="66.72" cy="90.22" r="1.95" fill="#0072BD"/>
<circle cx="82.04" cy="79.22" r="1.95" fill="#0072BD"/>
<circle cx="83.51" cy="87.07" r="1.95" fill="#0072BD"/>
<circle cx="62.96" cy="100.46" r="1.95" fill="#0072BD"/>
<circle cx="67.53" cy="77.63" r="1.95" fill="#0072BD"/>
<circle cx="61.32" cy="91.81" r="1.95" fill="#0072BD"/>
<circle cx="93.89" cy="95.98" r="1.95" fill="#0072BD"/>
<circle cx="74.18" cy="80.96" r="1.95" fill="#0072BD"/>
<circle cx="57.78" cy="92" r="1.95" fill="#0072BD"/>
<circle cx="80.92" cy="83.46" r="1.95" fill="#0072BD"/>
<circle cx="84.42" cy="86.17" r="1.95" fill="#0072BD"/>
<circle cx="96.66" cy="94.57" r="1.95" fill="#0072BD"/>
<circle cx="67.74" cy="99.5" r="1.95" fill="#0072BD"/>
<circle cx="59.15" cy="88.71" r="1.95" fill="#0072BD"/>
<circle cx="74.35" cy="80.19" r="1.95" fill="#0072BD"/>
<circle cx="59.75" cy="95.89" r="1.95" fill="#0072BD"/>
<circle cx="57.82" cy="89.28" r="1.95" fill="#0072BD"/>
<circle cx="65.68" cy="90.93" r="1.95" fill="#0072BD"/>
<circle cx="78.59" cy="91.91" r="1.95" fill="#0072BD"/>
<circle cx="91.46" cy="78.36" r="1.95" fill="#0072BD"/>
<circle cx="70.29" cy="82.01" r="1.95" fill="#0072BD"/>
<circle cx="59.34" cy="99.09" r="1.95" fill="#0072BD"/>
<circle cx="90.18" cy="94.05" r="1.95" fill="#0072BD"/>
<circle cx="57.57" cy="97.79" r="1.95" fill="#0072BD"/>
<circle cx="88.6" cy="86.79" r="1.95" fill="#0072BD"/>
<circle cx="88.45" cy="86.42" r="1.95" fill="#0072BD"/>
<circle cx="66.79" cy="76.35" r="1.95" fill="#0072BD"/>
<circle cx="67.06" cy="74.43" r="1.95" fill="#0072BD"/>
<circle cx="71.39" cy="95.04" r="1.95" fill="#0072BD"/>
<circle cx="86.49" cy="97.81" r="1.95" fill="#0072BD"/>
<circle cx="87.19" cy="81.01" r="1.95" fill="#0072BD"/>
<circle cx="80.56" cy="85.95" r="1.95" fill="#0072BD"/>
<circle cx="90.41" cy="88.47" r="1.95" fill="#0072BD"/>
<circle cx="68.44" cy="91.92" r="1.95" fill="#0072BD"/>
<circle cx="68.24" cy="80.15" r="1.95" fill="#0072BD"/>
<circle cx="88.54" cy="100.7" r="1.95" fill="#0072BD"/>
<circle cx="88.64" cy="82.78" r="1.95" fill="#0072BD"/>
<circle cx="94.27" cy="82.83" r="1.95" fill="#0072BD"/>
<circle cx="67.35" cy="99.62" r="1.95" fill="#0072BD"/>
<circle cx="83.79" cy="93.39" r="1.95" fill="#0072BD"/>
<circle cx="85.24" cy="101.69" r="1.95" fill="#0072BD"/>
<circle cx="77.02" cy="97.65" r="1.95" fill="#0072BD"/>
<circle cx="86.6" cy="98.17" r="1.95" fill="#0072BD"/>
<circle cx="75.66" cy="94.31" r="1.95" fill="#0072BD"/>
<circle cx="81.25" cy="82.22" r="1.95" fill="#0072BD"/>
<circle cx="66.2" cy="91.36" r="1.95" fill="#0072BD"/>
<circle cx="60.57" cy="99.71" r="1.95" fill="#0072BD"/>
<circle cx="61.78" cy="100.24" r="1.95" fill="#0072BD"/>
<circle cx="71.78" cy="77.41" r="1.95" fill="#0072BD"/>
<circle cx="86.39" cy="91.68" r="1.95" fill="#0072BD"/>
<circle cx="86.57" cy="94.67" r="1.95" fill="#0072BD"/>
<circle cx="60.06" cy="90.42" r="1.95" fill="#0072BD"/>
<circle cx="72.56" cy="97.01" r="1.95" fill="#0072BD"/>
<circle cx="91.72" cy="99.15" r="1.95" fill="#0072BD"/>
<circle cx="60.07" cy="98.47" r="1.95" fill="#0072BD"/>
<circle cx="95.71" cy="100.69" r="1.95" fill="#0072BD"/>
<circle cx="61.8" cy="79.27" r="1.95" fill="#0072BD"/>
<circle cx="92.9" cy="96.85" r="1.95" fill="#0072BD"/>
<circle cx="83.94" cy="97.23" r="1.95" fill="#0072BD"/>
<circle cx="83.82" cy="81.63" r="1.95" fill="#0072BD"/>
<circle cx="89.11" cy="79.24" r="1.95" fill="#0072BD"/>
<circle cx="70.7" cy="85.59" r="1.95" fill="#0072BD"/>
<circle cx="69.17" cy="94.06" r="1.95" fill="#0072BD"/>
<circle cx="72.76" cy="82.6" r="1.95" fill="#0072BD"/>
<circle cx="97.79" cy="87.91" r="1.95" fill="#0072BD"/>
<circle cx="93.06" cy="91.23" r="1.95" fill="#0072BD"/>
<circle cx="58.6" cy="85.27" r="1.95" fill="#0072BD"/>
<circle cx="75.63" cy="95.72" r="1.95" fill="#0072BD"/>
<circle cx="71.86" cy="93.74" r="1.95" fill="#0072BD"/>
<circle cx="79.89" cy="79.58" r="1.95" fill="#0072BD"/>
<circle cx="91.73" cy="78.24" r="1.95" fill="#0072BD"/>
<circle cx="89.31" cy="101.66" r="1.95" fill="#0072BD"/>
<circle cx="57.48" cy="87.53" r="1.95" fill="#0072BD"/>
<circle cx="77.94" cy="96.41" r="1.95" fill="#0072BD"/>
<circle cx="65.05" cy="87.64" r="1.95" fill="#0072BD"/>
<circle cx="71.88" cy="97.42" r="1.95" fill="#0072BD"/>
<circle cx="68.24" cy="100.67" r="1.95" fill="#0072BD"/>
<circle cx="69.22" cy="79.53" r="1.95" fill="#0072BD"/>
<circle cx="86.68" cy="87.75" r="1.95" fill="#0072BD"/>
<circle cx="61.92" cy="91.76" r="1.95" fill="#0072BD"/>
<circle cx="60.7" cy="96.15" r="1.95" fill="#0072BD"/>
<circle cx="86.58" cy="96.12" r="1.95" fill="#0072BD"/>
<circle cx="83.67" cy="83.61" r="1.95" fill="#0072BD"/>
<circle cx="74.15" cy="84.74" r="1.95" fill="#0072BD"/>
<circle cx="65.96" cy="80.93" r="1.95" fill="#0072BD"/>
<circle cx="95.15" cy="87.83" r="1.95" fill="#0072BD"/>
<circle cx="73.23" cy="98.94" r="1.95" fill="#0072BD"/>
<circle cx="67.11" cy="86.67" r="1.95" fill="#0072BD"/>
<circle cx="79.62" cy="95.18" r="1.95" fill="#0072BD"/>
<circle cx="88.93" cy="92.04" r="1.95" fill="#0072BD"/>
<circle cx="71.94" cy="82.77" r="1.95" fill="#0072BD"/>
<circle cx="63.82" cy="97.75" r="1.95" fill="#0072BD"/>
<circle cx="85.11" cy="94.82" r="1.95" fill="#0072BD"/>
<circle cx="64.42" cy="86.03" r="1.95" fill="#0072BD"/>
<circle cx="89.78" cy="90.1" r="1.95" fill="#0072BD"/>
<circle cx="62.59" cy="86.7" r="1.95" fill="#0072BD"/>
<circle cx="94.48" cy="80.2" r="1.95" fill="#0072BD"/>
<circle cx="65.35" cy="82.04" r="1.95" fill="#0072BD"/>
<circle cx="86.83" cy="97.77" r="1.95" fill="#0072BD"/>
<circle cx="63.79" cy="77.82" r="1.95" fill="#0072BD"/>
<circle cx="67.7" cy="82.77" r="1.95" fill="#0072BD"/>
<circle cx="79.23" cy="77.97" r="1.95" fill="#0072BD"/>
<circle cx="71.08" cy="78.79" r="1.95" fill="#0072BD"/>
<circle cx="61.58" cy="101.21" r="1.95" fill="#0072BD"/>
<circle cx="61.57" cy="84.44" r="1.95" fill="#0072BD"/>
<circle cx="88.1" cy="85.91" r="1.95" fill="#0072BD"/>
<circle cx="65.54" cy="91.8" r="1.95" fill="#0072BD"/>
<circle cx="61.79" cy="79.29" r="1.95" fill="#0072BD"/>
<circle cx="73.61" cy="74.28" r="1.95" fill="#0072BD"/>
<circle cx="74.06" cy="96.24" r="1.95" fill="#0072BD"/>
<circle cx="86.42" cy="87.81" r="1.95" fill="#0072BD"/>
<circle cx="83.86" cy="86.74" r="1.95" fill="#0072BD"/>
<circle cx="63.26" cy="90.81" r="1.95" fill="#0072BD"/>
<circle cx="74.3" cy="94.79" r="1.95" fill="#0072BD"/>
<circle cx="95.44" cy="85.77" r="1.95" fill="#0072BD"/>
<circle cx="81.41" cy="95.02" r="1.95" fill="#0072BD"/>
<circle cx="74.99" cy="79.93" r="1.95" fill="#0072BD"/>
<circle cx="87.63" cy="98.82" r="1.95" fill="#0072BD"/>
<circle cx="89.81" cy="93.6" r="1.95" fill="#0072BD"/>
<circle cx="93.1" cy="93.01" r="1.95" fill="#0072BD"/>
<circle cx="84.24" cy="86.46" r="1.95" fill="#0072BD"/>
<circle cx="70.45" cy="91.52" r="1.95" fill="#0072BD"/>
<circle cx="61.41" cy="85.47" r="1.95" fill="#0072BD"/>
<circle cx="90.16" cy="93.98" r="1.95" fill="#0072BD"/>
<circle cx="83.74" cy="80.55" r="1.95" fill="#0072BD"/>
<circle cx="75.09" cy="86.5" r="1.95" fill="#0072BD"/>
<circle cx="83.41" cy="85.17" r="1.95" fill="#0072BD"/>
<circle cx="85.66" cy="100.28" r="1.95" fill="#0072BD"/>
<circle cx="64.99" cy="92.28" r="1.95" fill="#0072BD"/>
<circle cx="89.98" cy="84.57" r="1.95" fill="#0072BD"/>
<circle cx="77.87" cy="101.56" r="1.95" fill="#0072BD"/>
<circle cx="58.9" cy="89.06" r="1.95" fill="#0072BD"/>
<circle cx="64.06" cy="95.97" r="1.95" fill="#0072BD"/>
<circle cx="96.8" cy="88.36" r="1.95" fill="#0072BD"/>
<circle cx="61.55" cy="89.96" r="1.95" fill="#0072BD"/>
<circle cx="80.02" cy="94.1" r="1.95" fill="#0072BD"/>
<circle cx="78.81" cy="91.84" r="1.95" fill="#0072BD"/>
<circle cx="92.12" cy="88.43" r="1.95" fill="#0072BD"/>
<circle cx="74.53" cy="100.79" r="1.95" fill="#0072BD"/>
<circle cx="66.12" cy="93.15" r="1.95" fill="#0072BD"/>
<circle cx="73.78" cy="95.42" r="1.95" fill="#0072BD"/>
<circle cx="62.44" cy="101.85" r="1.95" fill="#0072BD"/>
<circle cx="72.23" cy="74.94" r="1.95" fill="#0072BD"/>
<circle cx="68.82" cy="84.89" r="1.95" fill="#0072BD"/>
<circle cx="57.86" cy="85.44" r="1.95" fill="#0072BD"/>
<circle cx="74.96" cy="93.55" r="1.95" fill="#0072BD"/>
<circle cx="72.09" cy="80.99" r="1.95" fill="#0072BD"/>
<circle cx="66.73" cy="94.8" r="1.95" fill="#0072BD"/>
<circle cx="96.78" cy="88.59" r="1.95" fill="#0072BD"/>
<circle cx="66.49" cy="96.54" r="1.95" fill="#0072BD"/>
<circle cx="73.76" cy="79.45" r="1.95" fill="#0072BD"/>
<circle cx="62.73" cy="95.82" r="1.95" fill="#0072BD"/>
<circle cx="91.3" cy="91.69" r="1.95" fill="#0072BD"/>
<circle cx="77" cy="89.6" r="1.95" fill="#0072BD"/>
<circle cx="66.79" cy="101.25" r="1.95" fill="#0072BD"/>
<circle cx="72.13" cy="91.83" r="1.95" fill="#0072BD"/>
<circle cx="91.69" cy="96.97" r="1.95" fill="#0072BD"/>
<circle cx="76.96" cy="81.84" r="1.95" fill="#0072BD"/>
<circle cx="80.33" cy="76.93" r="1.95" fill="#0072BD"/>
<circle cx="92.32" cy="83.59" r="1.95" fill="#0072BD"/>
<circle cx="93.03" cy="81.06" r="1.95" fill="#0072BD"/>
<circle cx="73.1" cy="80.65" r="1.95" fill="#0072BD"/>
<circle cx="75.2" cy="78.69" r="1.95" fill="#0072BD"/>
<circle cx="57.41" cy="94.23" r="1.95" fill="#0072BD"/>
<circle cx="69.11" cy="80.4" r="1.95" fill="#0072BD"/>
<circle cx="69.98" cy="87.21" r="1.95" fill="#0072BD"/>
<circle cx="75.3" cy="91.78" r="1.95" fill="#0072BD"/>
<circle cx="84.99" cy="83.81" r="1.95" fill="#0072BD"/>
<circle cx="96.31" cy="98.08" r="1.95" fill="#0072BD"/>
<circle cx="59.7" cy="97.31" r="1.95" fill="#0072BD"/>
<circle cx="95.34" cy="96.04" r="1.95" fill="#0072BD"/>
<circle cx="63.2" cy="97.41" r="1.95" fill="#0072BD"/>
<circle cx="84.85" cy="80.55" r="1.95" fill="#0072BD"/>
<circle cx="67.11" cy="95.81" r="1.95" fill="#0072BD"/>
<circle cx="71.85" cy="77.73" r="1.95" fill="#0072BD"/>
<circle cx="95.27" cy="96.26" r="1.95" fill="#0072BD"/>
<circle cx="64.35" cy="99.14" r="1.95" fill="#0072BD"/>
<circle cx="82.85" cy="95.96" r="1.95" fill="#0072BD"/>
<circle cx="85.38" cy="99.22" r="1.95" fill="#0072BD"/>
<circle cx="90.4" cy="97.63" r="1.95" fill="#0072BD"/>
<circle cx="65.59" cy="93.39" r="1.95" fill="#0072BD"/>
<circle cx="79.59" cy="94.82" r="1.95" fill="#0072BD"/>
<circle cx="75.72" cy="98.9" r="1.95" fill="#0072BD"/>
<circle cx="80.61" cy="80.97" r="1.95" fill="#0072BD"/>
<circle cx="67.14" cy="77.34" r="1.95" fill="#0072BD"/>
<circle cx="78.01" cy="75" r="1.95" fill="#0072BD"/>
<circle cx="76.92" cy="77.49" r="1.95" fill="#0072BD"/>
<circle cx="77.94" cy="87.75" r="1.95" fill="#0072BD"/>
<circle cx="79.96" cy="98.32" r="1.95" fill="#0072BD"/>
<circle cx="57.58" cy="97.68" r="1.95" fill="#0072BD"/>
<circle cx="76.95" cy="89.61" r="1.95" fill="#0072BD"/>
<circle cx="108.81" cy="99.69" r="1.95" fill="#7E2F8E"/>
<circle cx="103.44" cy="91.47" r="1.95" fill="#7E2F8E"/>
<circle cx="108.29" cy="95.7" r="1.95" fill="#7E2F8E"/>
<circle cx="109.13" cy="101.46" r="1.95" fill="#7E2F8E"/>
<circle cx="102.61" cy="102.44" r="1.95" fill="#7E2F8E"/>
<circle cx="105.95" cy="92.75" r="1.95" fill="#7E2F8E"/>
<circle cx="109.79" cy="95.49" r="1.95" fill="#7E2F8E"/>
<circle cx="102.76" cy="100.1" r="1.95" fill="#7E2F8E"/>
<circle cx="103.27" cy="92.55" r="1.95" fill="#7E2F8E"/>
<circle cx="106.22" cy="98.33" r="1.95" fill="#7E2F8E"/>
<circle cx="100.4" cy="91.79" r="1.95" fill="#7E2F8E"/>
<circle cx="104.31" cy="94.1" r="1.95" fill="#7E2F8E"/>
<circle cx="111.79" cy="89.01" r="1.95" fill="#7E2F8E"/>
<circle cx="111.81" cy="91.17" r="1.95" fill="#7E2F8E"/>
<circle cx="105.82" cy="88.6" r="1.95" fill="#7E2F8E"/>
<circle cx="105.87" cy="102.31" r="1.95" fill="#7E2F8E"/>
<circle cx="108.61" cy="98.74" r="1.95" fill="#7E2F8E"/>
<circle cx="102.62" cy="89.48" r="1.95" fill="#7E2F8E"/>
<circle cx="102.04" cy="94.74" r="1.95" fill="#7E2F8E"/>
<circle cx="108.24" cy="98.59" r="1.95" fill="#7E2F8E"/>
<circle cx="97.24" cy="97.39" r="1.95" fill="#7E2F8E"/>
<circle cx="112.88" cy="93.94" r="1.95" fill="#7E2F8E"/>
<circle cx="108.67" cy="98.69" r="1.95" fill="#7E2F8E"/>
<circle cx="113.33" cy="95.23" r="1.95" fill="#7E2F8E"/>
<circle cx="107.91" cy="95.52" r="1.95" fill="#7E2F8E"/>
<circle cx="109.38" cy="94.93" r="1.95" fill="#7E2F8E"/>
<circle cx="109.1" cy="87.44" r="1.95" fill="#7E2F8E"/>
<circle cx="108.84" cy="92.23" r="1.95" fill="#7E2F8E"/>
<circle cx="110.61" cy="85.28" r="1.95" fill="#7E2F8E"/>
<circle cx="110.83" cy="101.12" r="1.95" fill="#7E2F8E"/>
<circle cx="108.63" cy="90.49" r="1.95" fill="#7E2F8E"/>
<circle cx="111.72" cy="98.64" r="1.95" fill="#7E2F8E"/>
<circle cx="106.9" cy="88.33" r="1.95" fill="#7E2F8E"/>
<circle cx="102.09" cy="91.52" r="1.95" fill="#7E2F8E"/>
<circle cx="102.39" cy="91.7" r="1.95" fill="#7E2F8E"/>
<circle cx="108.37" cy="101.51" r="1.95" fill="#7E2F8E"/>
<circle cx="97.51" cy="94.37" r="1.95" fill="#7E2F8E"/>
<circle cx="111.49" cy="94.52" r="1.95" fill="#7E2F8E"/>
<circle cx="113.49" cy="92.01" r="1.95" fill="#7E2F8E"/>
<circle cx="107.45" cy="101.59" r="1.95" fill="#7E2F8E"/>
<circle cx="104.13" cy="85.29" r="1.95" fill="#7E2F8E"/>
<circle cx="108.42" cy="87.44" r="1.95" fill="#7E2F8E"/>
<circle cx="98.75" cy="102.14" r="1.95" fill="#7E2F8E"/>
<circle cx="98.13" cy="100.26" r="1.95" fill="#7E2F8E"/>
<circle cx="109.81" cy="88.02" r="1.95" fill="#7E2F8E"/>
<circle cx="110.07" cy="86.95" r="1.95" fill="#7E2F8E"/>
<circle cx="97.43" cy="98.39" r="1.95" fill="#7E2F8E"/>
<circle cx="109.7" cy="99.98" r="1.95" fill="#7E2F8E"/>
<circle cx="110" cy="84.94" r="1.95" fill="#7E2F8E"/>
<circle cx="108.13" cy="97.13" r="1.95" fill="#7E2F8E"/>
<circle cx="105.02" cy="101.48" r="1.95" fill="#7E2F8E"/>
<circle cx="101.2" cy="102.1" r="1.95" fill="#7E2F8E"/>
<circle cx="109.77" cy="83.52" r="1.95" fill="#7E2F8E"/>
<circle cx="111.62" cy="84.85" r="1.95" fill="#7E2F8E"/>
<circle cx="102.25" cy="97.52" r="1.95" fill="#7E2F8E"/>
<circle cx="99.57" cy="100.09" r="1.95" fill="#7E2F8E"/>
<circle cx="105.5" cy="84.47" r="1.95" fill="#7E2F8E"/>
<circle cx="103.3" cy="94.51" r="1.95" fill="#7E2F8E"/>
<circle cx="104.62" cy="96.5" r="1.95" fill="#7E2F8E"/>
<circle cx="99.18" cy="98.85" r="1.95" fill="#7E2F8E"/>
<circle cx="103.22" cy="95.88" r="1.95" fill="#7E2F8E"/>
<circle cx="108.15" cy="91.45" r="1.95" fill="#7E2F8E"/>
<circle cx="103.64" cy="98.63" r="1.95" fill="#7E2F8E"/>
<circle cx="106.99" cy="89" r="1.95" fill="#7E2F8E"/>
<circle cx="97.62" cy="102.29" r="1.95" fill="#7E2F8E"/>
<circle cx="109.51" cy="99.43" r="1.95" fill="#7E2F8E"/>
<circle cx="102.64" cy="95.11" r="1.95" fill="#7E2F8E"/>
<circle cx="107.62" cy="89.32" r="1.95" fill="#7E2F8E"/>
<circle cx="104.43" cy="100.62" r="1.95" fill="#7E2F8E"/>
<circle cx="103.47" cy="96.65" r="1.95" fill="#7E2F8E"/>
<circle cx="131.35" cy="100.59" r="1.95" fill="#FF00FF"/>
<circle cx="137.63" cy="87.53" r="1.95" fill="#FF00FF"/>
<circle cx="125.89" cy="94" r="1.95" fill="#FF00FF"/>
<circle cx="137.89" cy="100.4" r="1.95" fill="#FF00FF"/>
<circle cx="114.29" cy="99.25" r="1.95" fill="#FF00FF"/>
<circle cx="137.76" cy="99.97" r="1.95" fill="#FF00FF"/>
<circle cx="130.44" cy="87.33" r="1.95" fill="#FF00FF"/>
<circle cx="138.96" cy="98.69" r="1.95" fill="#FF00FF"/>
<circle cx="133.88" cy="100.96" r="1.95" fill="#FF00FF"/>
<circle cx="129.89" cy="98.48" r="1.95" fill="#FF00FF"/>
<circle cx="119.11" cy="97.48" r="1.95" fill="#FF00FF"/>
<circle cx="141.42" cy="86.48" r="1.95" fill="#FF00FF"/>
<circle cx="131.51" cy="95.93" r="1.95" fill="#FF00FF"/>
<circle cx="127.19" cy="85.9" r="1.95" fill="#FF00FF"/>
<circle cx="120.77" cy="97.5" r="1.95" fill="#FF00FF"/>
<circle cx="137.15" cy="91.29" r="1.95" fill="#FF00FF"/>
<circle cx="115.67" cy="98.68" r="1.95" fill="#FF00FF"/>
<circle cx="136.55" cy="86.46" r="1.95" fill="#FF00FF"/>
<circle cx="130.68" cy="100.6" r="1.95" fill="#FF00FF"/>
<circle cx="140" cy="92.62" r="1.95" fill="#FF00FF"/>
<circle cx="127.54" cy="94.05" r="1.95" fill="#FF00FF"/>
<circle cx="118.51" cy="96.43" r="1.95" fill="#FF00FF"/>
<circle cx="124.07" cy="93.52" r="1.95" fill="#FF00FF"/>
<circle cx="125.28" cy="92.52" r="1.95" fill="#FF00FF"/>
<circle cx="143.41" cy="89.47" r="1.95" fill="#FF00FF"/>
<circle cx="116.24" cy="94.98" r="1.95" fill="#FF00FF"/>
<circle cx="137.01" cy="84.83" r="1.95" fill="#FF00FF"/>
<circle cx="131.21" cy="88.85" r="1.95" fill="#FF00FF"/>
<circle cx="114.02" cy="102.6" r="1.95" fill="#FF00FF"/>
<circle cx="139.42" cy="91.86" r="1.95" fill="#FF00FF"/>
<circle cx="130.3" cy="87.07" r="1.95" fill="#FF00FF"/>
<circle cx="136.77" cy="90.57" r="1.95" fill="#FF00FF"/>
<circle cx="141.87" cy="97.84" r="1.95" fill="#FF00FF"/>
<circle cx="137.97" cy="102.02" r="1.95" fill="#FF00FF"/>
<circle cx="130" cy="100.05" r="1.95" fill="#FF00FF"/>
<circle cx="126.98" cy="101.68" r="1.95" fill="#FF00FF"/>
<circle cx="140.75" cy="82.87" r="1.95" fill="#FF00FF"/>
<circle cx="131.24" cy="89.96" r="1.95" fill="#FF00FF"/>
<circle cx="116.66" cy="101.93" r="1.95" fill="#FF00FF"/>
<circle cx="120.84" cy="93.52" r="1.95" fill="#FF00FF"/>
<circle cx="132.54" cy="101.87" r="1.95" fill="#FF00FF"/>
<circle cx="133.43" cy="89.87" r="1.95" fill="#FF00FF"/>
<circle cx="126.67" cy="84.9" r="1.95" fill="#FF00FF"/>
<circle cx="142.46" cy="102.62" r="1.95" fill="#FF00FF"/>
<circle cx="120.8" cy="89" r="1.95" fill="#FF00FF"/>
<circle cx="140.53" cy="100.77" r="1.95" fill="#FF00FF"/>
<circle cx="138.54" cy="82.5" r="1.95" fill="#FF00FF"/>
<circle cx="136.98" cy="96.61" r="1.95" fill="#FF00FF"/>
<circle cx="132.72" cy="102.49" r="1.95" fill="#FF00FF"/>
<circle cx="136.03" cy="101.51" r="1.95" fill="#FF00FF"/>
<circle cx="133.65" cy="87.86" r="1.95" fill="#FF00FF"/>
<circle cx="131.04" cy="97.64" r="1.95" fill="#FF00FF"/>
<circle cx="127.68" cy="85.09" r="1.95" fill="#FF00FF"/>
<circle cx="134.88" cy="85.66" r="1.95" fill="#FF00FF"/>
<circle cx="114.1" cy="101.26" r="1.95" fill="#FF00FF"/>
<circle cx="119.73" cy="101.39" r="1.95" fill="#FF00FF"/>
<circle cx="139.44" cy="100.43" r="1.95" fill="#FF00FF"/>
<circle cx="117.26" cy="91.03" r="1.95" fill="#FF00FF"/>
<circle cx="115.96" cy="101.28" r="1.95" fill="#FF00FF"/>
<circle cx="138.69" cy="94.88" r="1.95" fill="#FF00FF"/>
<circle cx="126.8" cy="88.74" r="1.95" fill="#FF00FF"/>
<circle cx="138.1" cy="91.67" r="1.95" fill="#FF00FF"/>
<circle cx="132.16" cy="84.54" r="1.95" fill="#FF00FF"/>
<circle cx="134.77" cy="93.29" r="1.95" fill="#FF00FF"/>
<circle cx="117.41" cy="100.05" r="1.95" fill="#FF00FF"/>
<circle cx="121.13" cy="90.27" r="1.95" fill="#FF00FF"/>
<circle cx="138.61" cy="88.63" r="1.95" fill="#FF00FF"/>
<circle cx="118.12" cy="91.96" r="1.95" fill="#FF00FF"/>
<circle cx="122.7" cy="100.74" r="1.95" fill="#FF00FF"/>
<circle cx="116.48" cy="102.34" r="1.95" fill="#FF00FF"/>
<circle cx="114.73" cy="100.56" r="1.95" fill="#FF00FF"/>
<circle cx="133.38" cy="86" r="1.95" fill="#FF00FF"/>
<circle cx="127.56" cy="87.6" r="1.95" fill="#FF00FF"/>
<circle cx="124.11" cy="102.61" r="1.95" fill="#FF00FF"/>
<circle cx="140.33" cy="82.72" r="1.95" fill="#FF00FF"/>
<circle cx="135.16" cy="87.75" r="1.95" fill="#FF00FF"/>
<circle cx="137.61" cy="88.76" r="1.95" fill="#FF00FF"/>
<circle cx="138.38" cy="92.72" r="1.95" fill="#FF00FF"/>
<circle cx="118.67" cy="90.77" r="1.95" fill="#FF00FF"/>
<circle cx="140.82" cy="86.15" r="1.95" fill="#FF00FF"/>
<circle cx="130.43" cy="84.44" r="1.95" fill="#FF00FF"/>
<circle cx="118.49" cy="97.91" r="1.95" fill="#FF00FF"/>
<circle cx="134.7" cy="85.69" r="1.95" fill="#FF00FF"/>
<circle cx="131.56" cy="92.05" r="1.95" fill="#FF00FF"/>
<circle cx="131.68" cy="96.58" r="1.95" fill="#FF00FF"/>
<circle cx="137.75" cy="93.92" r="1.95" fill="#FF00FF"/>
<circle cx="135.35" cy="90.19" r="1.95" fill="#FF00FF"/>
<circle cx="135.01" cy="82.68" r="1.95" fill="#FF00FF"/>
<circle cx="137.72" cy="88.64" r="1.95" fill="#FF00FF"/>
<circle cx="138.68" cy="99.91" r="1.95" fill="#FF00FF"/>
<circle cx="140.76" cy="91.65" r="1.95" fill="#FF00FF"/>
<circle cx="139.6" cy="87.17" r="1.95" fill="#FF00FF"/>
<circle cx="118.67" cy="99.21" r="1.95" fill="#FF00FF"/>
<circle cx="124.32" cy="94.17" r="1.95" fill="#FF00FF"/>
<circle cx="126.6" cy="92.48" r="1.95" fill="#FF00FF"/>
<circle cx="116.68" cy="96.72" r="1.95" fill="#FF00FF"/>
<circle cx="137.9" cy="99.93" r="1.95" fill="#FF00FF"/>
<circle cx="122.79" cy="96.65" r="1.95" fill="#FF00FF"/>
<circle cx="124.63" cy="97.5" r="1.95" fill="#FF00FF"/>
<circle cx="114.87" cy="100.09" r="1.95" fill="#FF00FF"/>
<circle cx="142.1" cy="92.04" r="1.95" fill="#FF00FF"/>
<circle cx="128.66" cy="92.8" r="1.95" fill="#FF00FF"/>
<circle cx="142.51" cy="86.26" r="1.95" fill="#FF00FF"/>
<circle cx="120.64" cy="98.91" r="1.95" fill="#FF00FF"/>
<circle cx="134.32" cy="85.66" r="1.95" fill="#FF00FF"/>
<circle cx="130.58" cy="92.64" r="1.95" fill="#FF00FF"/>
<circle cx="134.43" cy="83.69" r="1.95" fill="#FF00FF"/>
<circle cx="139.52" cy="96.77" r="1.95" fill="#FF00FF"/>
<circle cx="128.05" cy="92.17" r="1.95" fill="#FF00FF"/>
<circle cx="131.05" cy="99.84" r="1.95" fill="#FF00FF"/>
<circle cx="117.49" cy="93.7" r="1.95" fill="#FF00FF"/>
<circle cx="135.77" cy="85" r="1.95" fill="#FF00FF"/>
<circle cx="138.19" cy="101.47" r="1.95" fill="#FF00FF"/>
<circle cx="124.86" cy="90.46" r="1.95" fill="#FF00FF"/>
<circle cx="138.61" cy="92.7" r="1.95" fill="#FF00FF"/>
<circle cx="125.07" cy="101.55" r="1.95" fill="#FF00FF"/>
<circle cx="136.7" cy="88.71" r="1.95" fill="#FF00FF"/>
<circle cx="120.33" cy="88.64" r="1.95" fill="#FF00FF"/>
<circle cx="126.29" cy="102.4" r="1.95" fill="#FF00FF"/>
<circle cx="137.53" cy="100.94" r="1.95" fill="#FF00FF"/>
<circle cx="137.86" cy="99.55" r="1.95" fill="#FF00FF"/>
<circle cx="114.63" cy="92.52" r="1.95" fill="#FF00FF"/>
<circle cx="142.21" cy="101.4" r="1.95" fill="#FF00FF"/>
<circle cx="120.6" cy="90.49" r="1.95" fill="#FF00FF"/>
<circle cx="132.3" cy="89.26" r="1.95" fill="#FF00FF"/>
<circle cx="126.21" cy="92.25" r="1.95" fill="#FF00FF"/>
<circle cx="142.58" cy="98.04" r="1.95" fill="#FF00FF"/>
<circle cx="141.58" cy="94.99" r="1.95" fill="#FF00FF"/>
<circle cx="137.68" cy="100.34" r="1.95" fill="#FF00FF"/>
<circle cx="139.98" cy="82.23" r="1.95" fill="#FF00FF"/>
<circle cx="60.24" cy="75.42" r="1.95" fill="#D95319"/>
<circle cx="60.52" cy="75.51" r="1.95" fill="#D95319"/>
<circle cx="60.08" cy="75.26" r="1.95" fill="#D95319"/>
<circle cx="59.31" cy="77.27" r="1.95" fill="#D95319"/>
<circle cx="62.62" cy="75.66" r="1.95" fill="#D95319"/>
<circle cx="57.65" cy="79.62" r="1.95" fill="#D95319"/>
<circle cx="56.23" cy="79.04" r="1.95" fill="#D95319"/>
<circle cx="57.37" cy="77.63" r="1.95" fill="#D95319"/>
<circle cx="59.41" cy="74.13" r="1.95" fill="#D95319"/>
<circle cx="57.56" cy="76.97" r="1.95" fill="#D95319"/>
<circle cx="57.52" cy="75.18" r="1.95" fill="#D95319"/>
<circle cx="55.98" cy="78.51" r="1.95" fill="#D95319"/>
<circle cx="59.69" cy="79.65" r="1.95" fill="#D95319"/>
<circle cx="56.85" cy="80.31" r="1.95" fill="#D95319"/>
<circle cx="80.68" cy="76.55" r="0.6" fill="#8ccdf2"/>
<circle cx="93.89" cy="83.39" r="0.6" fill="#8ccdf2"/>
<circle cx="90.89" cy="98.31" r="0.6" fill="#8ccdf2"/>
<circle cx="74.63" cy="100.41" r="0.6" fill="#8ccdf2"/>
<circle cx="80.03" cy="88.42" r="0.6" fill="#8ccdf2"/>
<circle cx="93.89" cy="96.43" r="0.6" fill="#8ccdf2"/>
<circle cx="78.18" cy="89" r="0.6" fill="#8ccdf2"/>
<circle cx="84.72" cy="85.3" r="0.6" fill="#8ccdf2"/>
<circle cx="71.95" cy="91.25" r="0.6" fill="#8ccdf2"/>
<circle cx="71.69" cy="101.49" r="0.6" fill="#8ccdf2"/>
<circle cx="84.38" cy="89.23" r="0.6" fill="#8ccdf2"/>
<circle cx="61.86" cy="84.86" r="0.6" fill="#8ccdf2"/>
<circle cx="73.63" cy="90.28" r="0.6" fill="#8ccdf2"/>
<circle cx="80.39" cy="99.52" r="0.6" fill="#8ccdf2"/>
<circle cx="95.61" cy="88.11" r="0.6" fill="#8ccdf2"/>
<circle cx="75.17" cy="92.11" r="0.6" fill="#8ccdf2"/>
<circle cx="96.85" cy="83.96" r="0.6" fill="#8ccdf2"/>
<circle cx="78.68" cy="97.66" r="0.6" fill="#8ccdf2"/>
<circle cx="64.66" cy="83.22" r="0.6" fill="#8ccdf2"/>
<circle cx="96.16" cy="97.95" r="0.6" fill="#8ccdf2"/>
<circle cx="77.99" cy="77.2" r="0.6" fill="#8ccdf2"/>
<circle cx="92.89" cy="94.01" r="0.6" fill="#8ccdf2"/>
<circle cx="92.64" cy="86.21" r="0.6" fill="#8ccdf2"/>
<circle cx="64.1" cy="82.41" r="0.6" fill="#8ccdf2"/>
<circle cx="77.95" cy="88.64" r="0.6" fill="#8ccdf2"/>
<circle cx="65.34" cy="79.29" r="0.6" fill="#8ccdf2"/>
<circle cx="82.57" cy="91.49" r="0.6" fill="#8ccdf2"/>
<circle cx="82.82" cy="75.23" r="0.6" fill="#8ccdf2"/>
<circle cx="74.05" cy="96.84" r="0.6" fill="#8ccdf2"/>
<circle cx="69.96" cy="94.03" r="0.6" fill="#8ccdf2"/>
<circle cx="58.15" cy="82.83" r="0.6" fill="#8ccdf2"/>
<circle cx="90.84" cy="91" r="0.6" fill="#8ccdf2"/>
<circle cx="84.06" cy="79.7" r="0.6" fill="#8ccdf2"/>
<circle cx="77.42" cy="90.04" r="0.6" fill="#8ccdf2"/>
<circle cx="68.37" cy="92.76" r="0.6" fill="#8ccdf2"/>
<circle cx="80.4" cy="85.92" r="0.6" fill="#8ccdf2"/>
<circle cx="62.74" cy="78.55" r="0.6" fill="#8ccdf2"/>
<circle cx="87.62" cy="77.09" r="0.6" fill="#8ccdf2"/>
<circle cx="61.9" cy="78.95" r="0.6" fill="#8ccdf2"/>
<circle cx="78.38" cy="97.87" r="0.6" fill="#8ccdf2"/>
<circle cx="81.91" cy="97.39" r="0.6" fill="#8ccdf2"/>
<circle cx="88.05" cy="83.36" r="0.6" fill="#8ccdf2"/>
<circle cx="85.9" cy="84.26" r="0.6" fill="#8ccdf2"/>
<circle cx="64.61" cy="81.73" r="0.6" fill="#8ccdf2"/>
<circle cx="61.88" cy="100.21" r="0.6" fill="#8ccdf2"/>
<circle cx="80.71" cy="84.12" r="0.6" fill="#8ccdf2"/>
<circle cx="75.54" cy="85.18" r="0.6" fill="#8ccdf2"/>
<circle cx="60.13" cy="99.83" r="0.6" fill="#8ccdf2"/>
<circle cx="80.72" cy="101.83" r="0.6" fill="#8ccdf2"/>
<circle cx="75.15" cy="91.99" r="0.6" fill="#8ccdf2"/>
<circle cx="67.72" cy="75.28" r="0.6" fill="#8ccdf2"/>
<circle cx="94.3" cy="98.79" r="0.6" fill="#8ccdf2"/>
<circle cx="70.28" cy="100.07" r="0.6" fill="#8ccdf2"/>
<circle cx="139.48" cy="90.07" r="0.55" fill="#ff9cff"/>
<circle cx="122.29" cy="91.8" r="0.55" fill="#ff9cff"/>
<circle cx="136.55" cy="88.43" r="0.55" fill="#ff9cff"/>
<circle cx="124.27" cy="101.51" r="0.55" fill="#ff9cff"/>
<circle cx="129.53" cy="99.86" r="0.55" fill="#ff9cff"/>
<circle cx="125.75" cy="87.73" r="0.55" fill="#ff9cff"/>
<circle cx="131.85" cy="86.3" r="0.55" fill="#ff9cff"/>
<circle cx="131.01" cy="91.71" r="0.55" fill="#ff9cff"/>
<circle cx="127.1" cy="85.31" r="0.55" fill="#ff9cff"/>
<circle cx="118.7" cy="100.52" r="0.55" fill="#ff9cff"/>
<circle cx="125.54" cy="88.9" r="0.55" fill="#ff9cff"/>
<circle cx="120.74" cy="89.67" r="0.55" fill="#ff9cff"/>
<circle cx="134.93" cy="90.83" r="0.55" fill="#ff9cff"/>
<circle cx="119.68" cy="98.12" r="0.55" fill="#ff9cff"/>
<circle cx="117.78" cy="89.39" r="0.55" fill="#ff9cff"/>
<circle cx="140.05" cy="86.56" r="0.55" fill="#ff9cff"/>
<circle cx="128.3" cy="100.73" r="0.55" fill="#ff9cff"/>
<circle cx="139.15" cy="87.18" r="0.55" fill="#ff9cff"/>
<circle cx="125.59" cy="98.45" r="0.55" fill="#ff9cff"/>
<polygon points="70.9,60.4 71.54,62.12 73.37,62.2 71.94,63.34 72.43,65.1 70.9,64.09 69.37,65.1 69.86,63.34 68.43,62.2 70.26,62.12" fill="#101830"/>
<polygon points="60.3,72.9 60.94,74.62 62.77,74.7 61.34,75.84 61.83,77.6 60.3,76.59 58.77,77.6 59.26,75.84 57.83,74.7 59.66,74.62" fill="#101830"/>
<polygon points="78,88.6 78.64,90.32 80.47,90.4 79.04,91.54 79.53,93.3 78,92.29 76.47,93.3 76.96,91.54 75.53,90.4 77.36,90.32" fill="#101830"/>
<polygon points="98.7,66.3 99.34,68.02 101.17,68.1 99.74,69.24 100.23,71 98.7,69.99 97.17,71 97.66,69.24 96.23,68.1 98.06,68.02" fill="#101830"/>
<polygon points="106.7,92.4 107.34,94.12 109.17,94.2 107.74,95.34 108.23,97.1 106.7,96.09 105.17,97.1 105.66,95.34 104.23,94.2 106.06,94.12" fill="#101830"/>
<polygon points="125,72.6 125.64,74.32 127.47,74.4 126.04,75.54 126.53,77.3 125,76.29 123.47,77.3 123.96,75.54 122.53,74.4 124.36,74.32" fill="#101830"/>
<polygon points="130,93.2 130.64,94.92 132.47,95 131.04,96.14 131.53,97.9 130,96.89 128.47,97.9 128.96,96.14 127.53,95 129.36,94.92" fill="#101830"/>
<g clip-path="url(#c2)">
<ellipse cx="276.35" cy="21.44" rx="21" ry="18.5" fill="none" stroke="#f088f0" stroke-width="0.75" stroke-dasharray="2.6,1.4"/>
<ellipse cx="269.93" cy="29.41" rx="21" ry="18.5" fill="none" stroke="#f088f0" stroke-width="0.75" stroke-dasharray="2.6,1.4"/>
<ellipse cx="277.91" cy="16.09" rx="21" ry="18.5" fill="none" stroke="#f088f0" stroke-width="0.75" stroke-dasharray="2.6,1.4"/>
<ellipse cx="251.08" cy="56.74" rx="21" ry="18.5" fill="none" stroke="#f088f0" stroke-width="0.75" stroke-dasharray="2.6,1.4"/>
<ellipse cx="260.51" cy="65.47" rx="21" ry="18.5" fill="none" stroke="#f088f0" stroke-width="0.75" stroke-dasharray="2.6,1.4"/>
<ellipse cx="247.52" cy="79.85" rx="21" ry="18.5" fill="none" stroke="#f088f0" stroke-width="0.75" stroke-dasharray="2.6,1.4"/>
<ellipse cx="256.16" cy="75.04" rx="21" ry="18.5" fill="none" stroke="#f088f0" stroke-width="0.75" stroke-dasharray="2.6,1.4"/>
<ellipse cx="265.95" cy="73.23" rx="21" ry="18.5" fill="none" stroke="#f088f0" stroke-width="0.75" stroke-dasharray="2.6,1.4"/>
<ellipse cx="251.07" cy="66.42" rx="21" ry="18.5" fill="none" stroke="#f088f0" stroke-width="0.75" stroke-dasharray="2.6,1.4"/>
<ellipse cx="243.9" cy="58.78" rx="21" ry="18.5" fill="none" stroke="#f088f0" stroke-width="0.75" stroke-dasharray="2.6,1.4"/>
<ellipse cx="242.79" cy="60.54" rx="21" ry="18.5" fill="none" stroke="#f088f0" stroke-width="0.75" stroke-dasharray="2.6,1.4"/>
<ellipse cx="283.52" cy="67.74" rx="21" ry="18.5" fill="none" stroke="#f088f0" stroke-width="0.75" stroke-dasharray="2.6,1.4"/>
<ellipse cx="284.22" cy="64.09" rx="21" ry="18.5" fill="none" stroke="#f088f0" stroke-width="0.75" stroke-dasharray="2.6,1.4"/>
<ellipse cx="282.44" cy="61.42" rx="21" ry="18.5" fill="none" stroke="#f088f0" stroke-width="0.75" stroke-dasharray="2.6,1.4"/>
<ellipse cx="277.49" cy="60.45" rx="21" ry="18.5" fill="none" stroke="#f088f0" stroke-width="0.75" stroke-dasharray="2.6,1.4"/>
<ellipse cx="281.68" cy="57.43" rx="21" ry="18.5" fill="none" stroke="#f088f0" stroke-width="0.75" stroke-dasharray="2.6,1.4"/>
<ellipse cx="313.95" cy="50.44" rx="21" ry="18.5" fill="none" stroke="#f088f0" stroke-width="0.75" stroke-dasharray="2.6,1.4"/>
<ellipse cx="313.71" cy="63.32" rx="21" ry="18.5" fill="none" stroke="#f088f0" stroke-width="0.75" stroke-dasharray="2.6,1.4"/>
<ellipse cx="314.39" cy="44.4" rx="21" ry="18.5" fill="none" stroke="#f088f0" stroke-width="0.75" stroke-dasharray="2.6,1.4"/>
<ellipse cx="288.54" cy="52.85" rx="21" ry="18.5" fill="none" stroke="#f088f0" stroke-width="0.75" stroke-dasharray="2.6,1.4"/>
<ellipse cx="301.09" cy="51.03" rx="21" ry="18.5" fill="none" stroke="#f088f0" stroke-width="0.75" stroke-dasharray="2.6,1.4"/>
<ellipse cx="328.94" cy="51.32" rx="21" ry="18.5" fill="none" stroke="#f088f0" stroke-width="0.75" stroke-dasharray="2.6,1.4"/>
<ellipse cx="329.09" cy="51.5" rx="21" ry="18.5" fill="none" stroke="#f088f0" stroke-width="0.75" stroke-dasharray="2.6,1.4"/>
<ellipse cx="327.21" cy="53.53" rx="21" ry="18.5" fill="none" stroke="#f088f0" stroke-width="0.75" stroke-dasharray="2.6,1.4"/>
<ellipse cx="326.55" cy="57.58" rx="21" ry="18.5" fill="none" stroke="#f088f0" stroke-width="0.75" stroke-dasharray="2.6,1.4"/>
<ellipse cx="307.41" cy="85.48" rx="21" ry="18.5" fill="none" stroke="#f088f0" stroke-width="0.75" stroke-dasharray="2.6,1.4"/>
<ellipse cx="315.65" cy="78.71" rx="21" ry="18.5" fill="none" stroke="#f088f0" stroke-width="0.75" stroke-dasharray="2.6,1.4"/>
<ellipse cx="314.75" cy="80.42" rx="21" ry="18.5" fill="none" stroke="#f088f0" stroke-width="0.75" stroke-dasharray="2.6,1.4"/>
<ellipse cx="328.1" cy="81.61" rx="21" ry="18.5" fill="none" stroke="#f088f0" stroke-width="0.75" stroke-dasharray="2.6,1.4"/>
<ellipse cx="294.32" cy="80.75" rx="21" ry="18.5" fill="none" stroke="#f088f0" stroke-width="0.75" stroke-dasharray="2.6,1.4"/>
<ellipse cx="294.52" cy="95.43" rx="21" ry="18.5" fill="none" stroke="#f088f0" stroke-width="0.75" stroke-dasharray="2.6,1.4"/>
<ellipse cx="294.13" cy="96.43" rx="21" ry="18.5" fill="none" stroke="#f088f0" stroke-width="0.75" stroke-dasharray="2.6,1.4"/>
<ellipse cx="295.39" cy="86.25" rx="21" ry="18.5" fill="none" stroke="#f088f0" stroke-width="0.75" stroke-dasharray="2.6,1.4"/>
<ellipse cx="256.99" cy="92.85" rx="21" ry="18.5" fill="none" stroke="#f088f0" stroke-width="0.75" stroke-dasharray="2.6,1.4"/>
<ellipse cx="256.27" cy="98.48" rx="21" ry="18.5" fill="none" stroke="#f088f0" stroke-width="0.75" stroke-dasharray="2.6,1.4"/>
<ellipse cx="257.66" cy="91.78" rx="21" ry="18.5" fill="none" stroke="#f088f0" stroke-width="0.75" stroke-dasharray="2.6,1.4"/>
<ellipse cx="255.73" cy="97.98" rx="21" ry="18.5" fill="none" stroke="#f088f0" stroke-width="0.75" stroke-dasharray="2.6,1.4"/>
<ellipse cx="258.25" cy="97.48" rx="21" ry="18.5" fill="none" stroke="#f088f0" stroke-width="0.75" stroke-dasharray="2.6,1.4"/>
<ellipse cx="324" cy="31" rx="21" ry="18.5" fill="none" stroke="#f088f0" stroke-width="0.75" stroke-dasharray="2.6,1.4"/>
<ellipse cx="318" cy="36" rx="21" ry="18.5" fill="none" stroke="#f088f0" stroke-width="0.75" stroke-dasharray="2.6,1.4"/>
<ellipse cx="236" cy="103" rx="21" ry="18.5" fill="none" stroke="#f088f0" stroke-width="0.75" stroke-dasharray="2.6,1.4"/>
<ellipse cx="240" cy="98" rx="21" ry="18.5" fill="none" stroke="#f088f0" stroke-width="0.75" stroke-dasharray="2.6,1.4"/>
<ellipse cx="234" cy="74" rx="21" ry="18.5" fill="none" stroke="#f088f0" stroke-width="0.75" stroke-dasharray="2.6,1.4"/>
<ellipse cx="236" cy="62" rx="21" ry="18.5" fill="none" stroke="#f088f0" stroke-width="0.75" stroke-dasharray="2.6,1.4"/>
<ellipse cx="240" cy="84" rx="21" ry="18.5" fill="none" stroke="#f088f0" stroke-width="0.75" stroke-dasharray="2.6,1.4"/>
</g>
<circle cx="278" cy="15.8" r="1.9" fill="#EDB120" stroke="#7a4a22" stroke-width="0.45"/>
<circle cx="267.3" cy="31" r="1.9" fill="#EDB120" stroke="#7a4a22" stroke-width="0.45"/>
<circle cx="280" cy="33.2" r="1.9" fill="#EDB120" stroke="#7a4a22" stroke-width="0.45"/>
<circle cx="247.7" cy="50.5" r="1.9" fill="#0072BD" stroke="#7a4a22" stroke-width="0.45"/>
<circle cx="262" cy="50.5" r="1.9" fill="#0072BD" stroke="#7a4a22" stroke-width="0.45"/>
<circle cx="238.8" cy="57.7" r="1.9" fill="#0072BD" stroke="#7a4a22" stroke-width="0.45"/>
<circle cx="242.1" cy="56.9" r="1.9" fill="#0072BD" stroke="#7a4a22" stroke-width="0.45"/>
<circle cx="251.1" cy="57.2" r="1.9" fill="#0072BD" stroke="#7a4a22" stroke-width="0.45"/>
<circle cx="255" cy="54.8" r="1.9" fill="#0072BD" stroke="#7a4a22" stroke-width="0.45"/>
<circle cx="249.9" cy="65.6" r="1.9" fill="#0072BD" stroke="#7a4a22" stroke-width="0.45"/>
<circle cx="252.8" cy="66.1" r="1.9" fill="#0072BD" stroke="#7a4a22" stroke-width="0.45"/>
<circle cx="263.7" cy="65" r="1.9" fill="#0072BD" stroke="#7a4a22" stroke-width="0.45"/>
<circle cx="269.1" cy="66.1" r="1.9" fill="#0072BD" stroke="#7a4a22" stroke-width="0.45"/>
<circle cx="235.1" cy="75.4" r="1.9" fill="#0072BD" stroke="#7a4a22" stroke-width="0.45"/>
<circle cx="258.3" cy="78.9" r="1.9" fill="#0072BD" stroke="#7a4a22" stroke-width="0.45"/>
<circle cx="270.8" cy="75.4" r="1.9" fill="#0072BD" stroke="#7a4a22" stroke-width="0.45"/>
<circle cx="240.5" cy="81.6" r="1.9" fill="#0072BD" stroke="#7a4a22" stroke-width="0.45"/>
<circle cx="246" cy="84.7" r="1.9" fill="#0072BD" stroke="#7a4a22" stroke-width="0.45"/>
<circle cx="244.2" cy="89.8" r="1.9" fill="#0072BD" stroke="#7a4a22" stroke-width="0.45"/>
<circle cx="304.8" cy="71.1" r="1.9" fill="#0072BD" stroke="#7a4a22" stroke-width="0.45"/>
<circle cx="315.6" cy="78.8" r="1.9" fill="#0072BD" stroke="#7a4a22" stroke-width="0.45"/>
<circle cx="328" cy="81.6" r="1.9" fill="#0072BD" stroke="#7a4a22" stroke-width="0.45"/>
<circle cx="306.6" cy="86" r="1.9" fill="#0072BD" stroke="#7a4a22" stroke-width="0.45"/>
<circle cx="319" cy="86.8" r="1.9" fill="#0072BD" stroke="#7a4a22" stroke-width="0.45"/>
<circle cx="273" cy="57.4" r="1.9" fill="#7E2F8E" stroke="#7a4a22" stroke-width="0.45"/>
<circle cx="281.4" cy="56" r="1.9" fill="#7E2F8E" stroke="#7a4a22" stroke-width="0.45"/>
<circle cx="274.7" cy="66.6" r="1.9" fill="#7E2F8E" stroke="#7a4a22" stroke-width="0.45"/>
<circle cx="276.4" cy="71.2" r="1.9" fill="#7E2F8E" stroke="#7a4a22" stroke-width="0.45"/>
<circle cx="283.6" cy="68.3" r="1.9" fill="#7E2F8E" stroke="#7a4a22" stroke-width="0.45"/>
<circle cx="287.3" cy="64.5" r="1.9" fill="#7E2F8E" stroke="#7a4a22" stroke-width="0.45"/>
<circle cx="288.4" cy="63.7" r="1.9" fill="#7E2F8E" stroke="#7a4a22" stroke-width="0.45"/>
<circle cx="283.4" cy="67.8" r="1.9" fill="#7E2F8E" stroke="#7a4a22" stroke-width="0.45"/>
<circle cx="299.5" cy="64.4" r="1.9" fill="#7E2F8E" stroke="#7a4a22" stroke-width="0.45"/>
<circle cx="281.3" cy="55.8" r="1.9" fill="#7E2F8E" stroke="#7a4a22" stroke-width="0.45"/>
<circle cx="303.2" cy="41.1" r="1.9" fill="#4DBEEE" stroke="#7a4a22" stroke-width="0.45"/>
<circle cx="317.3" cy="41.1" r="1.9" fill="#4DBEEE" stroke="#7a4a22" stroke-width="0.45"/>
<circle cx="308.3" cy="47.1" r="1.9" fill="#4DBEEE" stroke="#7a4a22" stroke-width="0.45"/>
<circle cx="320.8" cy="48.5" r="1.9" fill="#4DBEEE" stroke="#7a4a22" stroke-width="0.45"/>
<circle cx="290.5" cy="48.9" r="1.9" fill="#4DBEEE" stroke="#7a4a22" stroke-width="0.45"/>
<circle cx="287" cy="52.9" r="1.9" fill="#4DBEEE" stroke="#7a4a22" stroke-width="0.45"/>
<circle cx="295.9" cy="52.9" r="1.9" fill="#4DBEEE" stroke="#7a4a22" stroke-width="0.45"/>
<circle cx="310.3" cy="56.3" r="1.9" fill="#4DBEEE" stroke="#7a4a22" stroke-width="0.45"/>
<circle cx="322.5" cy="58.7" r="1.9" fill="#4DBEEE" stroke="#7a4a22" stroke-width="0.45"/>
<circle cx="312.1" cy="64.4" r="1.9" fill="#4DBEEE" stroke="#7a4a22" stroke-width="0.45"/>
<circle cx="313.7" cy="63.3" r="1.9" fill="#4DBEEE" stroke="#7a4a22" stroke-width="0.45"/>
<circle cx="324.5" cy="32.3" r="1.9" fill="#A2142F" stroke="#7a4a22" stroke-width="0.45"/>
<circle cx="330.5" cy="55" r="1.9" fill="#A2142F" stroke="#7a4a22" stroke-width="0.45"/>
<circle cx="331.9" cy="55" r="1.9" fill="#A2142F" stroke="#7a4a22" stroke-width="0.45"/>
<circle cx="326.5" cy="57.9" r="1.9" fill="#A2142F" stroke="#7a4a22" stroke-width="0.45"/>
<circle cx="293.8" cy="78.1" r="1.9" fill="#77AC30" stroke="#7a4a22" stroke-width="0.45"/>
<circle cx="297.5" cy="86" r="1.9" fill="#77AC30" stroke="#7a4a22" stroke-width="0.45"/>
<circle cx="301" cy="99.2" r="1.9" fill="#77AC30" stroke="#7a4a22" stroke-width="0.45"/>
<circle cx="292.1" cy="101.6" r="1.9" fill="#77AC30" stroke="#7a4a22" stroke-width="0.45"/>
<circle cx="260.1" cy="87.9" r="1.9" fill="#D95319" stroke="#7a4a22" stroke-width="0.45"/>
<circle cx="256.6" cy="98.8" r="1.9" fill="#D95319" stroke="#7a4a22" stroke-width="0.45"/>
<circle cx="265.5" cy="98.8" r="1.9" fill="#D95319" stroke="#7a4a22" stroke-width="0.45"/>
<circle cx="237" cy="103" r="1.9" fill="#D95319" stroke="#7a4a22" stroke-width="0.45"/>
<polygon points="274.9,23.5 275.62,25.41 277.66,25.5 276.06,26.78 276.6,28.75 274.9,27.62 273.2,28.75 273.74,26.78 272.14,25.5 274.18,25.41" fill="#1a1030"/>
<polygon points="251.6,63.9 252.32,65.81 254.36,65.9 252.76,67.18 253.3,69.15 251.6,68.02 249.9,69.15 250.44,67.18 248.84,65.9 250.88,65.81" fill="#1a1030"/>
<polygon points="283,61.3 283.72,63.21 285.76,63.3 284.16,64.58 284.7,66.55 283,65.42 281.3,66.55 281.84,64.58 280.24,63.3 282.28,63.21" fill="#1a1030"/>
<polygon points="307.4,49.4 308.12,51.31 310.16,51.4 308.56,52.68 309.1,54.65 307.4,53.52 305.7,54.65 306.24,52.68 304.64,51.4 306.68,51.31" fill="#1a1030"/>
<polygon points="327.8,47 328.52,48.91 330.56,49 328.96,50.28 329.5,52.25 327.8,51.12 326.1,52.25 326.64,50.28 325.04,49 327.08,48.91" fill="#1a1030"/>
<polygon points="314.5,78 315.22,79.91 317.26,80 315.66,81.28 316.2,83.25 314.5,82.12 312.8,83.25 313.34,81.28 311.74,80 313.78,79.91" fill="#1a1030"/>
<polygon points="296.3,88 297.02,89.91 299.06,90 297.46,91.28 298,93.25 296.3,92.12 294.6,93.25 295.14,91.28 293.54,90 295.58,89.91" fill="#1a1030"/>
<polygon points="254.5,93.9 255.22,95.81 257.26,95.9 255.66,97.18 256.2,99.15 254.5,98.02 252.8,99.15 253.34,97.18 251.74,95.9 253.78,95.81" fill="#1a1030"/>
<g clip-path="url(#c3)">
<ellipse cx="411.38" cy="24.4" rx="19.6" ry="15.2" fill="none" stroke="#ee74ee" stroke-width="0.85" stroke-dasharray="2.6,1.4"/>
<ellipse cx="410.88" cy="75.4" rx="19.6" ry="15.2" fill="none" stroke="#ee74ee" stroke-width="0.85" stroke-dasharray="2.6,1.4"/>
<ellipse cx="412.11" cy="92.4" rx="19.6" ry="15.2" fill="none" stroke="#ee74ee" stroke-width="0.85" stroke-dasharray="2.6,1.4"/>
<ellipse cx="437.31" cy="91.6" rx="19.6" ry="15.2" fill="none" stroke="#ee74ee" stroke-width="0.85" stroke-dasharray="2.6,1.4"/>
<ellipse cx="430.5" cy="110" rx="19.6" ry="15.2" fill="none" stroke="#ee74ee" stroke-width="0.85" stroke-dasharray="2.6,1.4"/>
<ellipse cx="459.56" cy="110" rx="19.6" ry="15.2" fill="none" stroke="#ee74ee" stroke-width="0.85" stroke-dasharray="2.6,1.4"/>
<ellipse cx="474.7" cy="110" rx="19.6" ry="15.2" fill="none" stroke="#ee74ee" stroke-width="0.85" stroke-dasharray="2.6,1.4"/>
<ellipse cx="499.63" cy="110" rx="19.6" ry="15.2" fill="none" stroke="#ee74ee" stroke-width="0.85" stroke-dasharray="2.6,1.4"/>
<ellipse cx="416.68" cy="110" rx="19.6" ry="15.2" fill="none" stroke="#ee74ee" stroke-width="0.85" stroke-dasharray="2.6,1.4"/>
<ellipse cx="425.27" cy="110" rx="19.6" ry="15.2" fill="none" stroke="#ee74ee" stroke-width="0.85" stroke-dasharray="2.6,1.4"/>
<ellipse cx="436.12" cy="110" rx="19.6" ry="15.2" fill="none" stroke="#ee74ee" stroke-width="0.85" stroke-dasharray="2.6,1.4"/>
<ellipse cx="445.7" cy="111" rx="19.6" ry="15.2" fill="none" stroke="#ee74ee" stroke-width="0.85" stroke-dasharray="2.6,1.4"/>
<ellipse cx="461.38" cy="109" rx="19.6" ry="15.2" fill="none" stroke="#ee74ee" stroke-width="0.85" stroke-dasharray="2.6,1.4"/>
<ellipse cx="495.42" cy="110" rx="19.6" ry="15.2" fill="none" stroke="#ee74ee" stroke-width="0.85" stroke-dasharray="2.6,1.4"/>
<ellipse cx="503.25" cy="110" rx="19.6" ry="15.2" fill="none" stroke="#ee74ee" stroke-width="0.85" stroke-dasharray="2.6,1.4"/>
<ellipse cx="508.64" cy="111" rx="19.6" ry="15.2" fill="none" stroke="#ee74ee" stroke-width="0.85" stroke-dasharray="2.6,1.4"/>
</g>
<line x1="411.4" y1="110" x2="519" y2="110" stroke="#5a4a30" stroke-width="4.6" stroke-linecap="round"/>
<line x1="411.4" y1="110" x2="448.6" y2="110" stroke="#0072BD" stroke-width="3.9" stroke-linecap="round"/>
<line x1="448.6" y1="110" x2="468.3" y2="110" stroke="#4DBEEE" stroke-width="3.9" stroke-linecap="butt"/>
<line x1="468.3" y1="110" x2="481.6" y2="110" stroke="#A2142F" stroke-width="3.9" stroke-linecap="butt"/>
<line x1="481.6" y1="110" x2="519" y2="110" stroke="#EDB120" stroke-width="3.9" stroke-linecap="round"/>
<circle cx="411" cy="24.4" r="2.3" fill="#e0901a"/>
<circle cx="410.5" cy="75.2" r="2.1" fill="#EDB120"/>
<circle cx="413" cy="75.2" r="2.1" fill="#EDB120"/>
<circle cx="415.3" cy="75.2" r="2.1" fill="#EDB120"/>
<circle cx="411.9" cy="92.4" r="2.0" fill="#6b8a20"/>
<circle cx="436.8" cy="92.4" r="2.0" fill="#6b8a20"/>
<polygon points="411,21.6 411.69,23.45 413.66,23.53 412.12,24.76 412.65,26.67 411,25.58 409.35,26.67 409.88,24.76 408.34,23.53 410.31,23.45" fill="#1a2a10"/>
<polygon points="411.9,72.3 412.59,74.15 414.56,74.23 413.02,75.46 413.55,77.37 411.9,76.28 410.25,77.37 410.78,75.46 409.24,74.23 411.21,74.15" fill="#1a2a10"/>
<polygon points="411.9,89.6 412.59,91.45 414.56,91.53 413.02,92.76 413.55,94.67 411.9,93.58 410.25,94.67 410.78,92.76 409.24,91.53 411.21,91.45" fill="#1a2a10"/>
<polygon points="436.8,89.6 437.49,91.45 439.46,91.53 437.92,92.76 438.45,94.67 436.8,93.58 435.15,94.67 435.68,92.76 434.14,91.53 436.11,91.45" fill="#1a2a10"/>
<polygon points="430.4,107.2 431.09,109.05 433.06,109.13 431.52,110.36 432.05,112.27 430.4,111.18 428.75,112.27 429.28,110.36 427.74,109.13 429.71,109.05" fill="#1a2a10"/>
<polygon points="460,107.2 460.69,109.05 462.66,109.13 461.12,110.36 461.65,112.27 460,111.18 458.35,112.27 458.88,110.36 457.34,109.13 459.31,109.05" fill="#1a2a10"/>
<polygon points="474.7,107.2 475.39,109.05 477.36,109.13 475.82,110.36 476.35,112.27 474.7,111.18 473.05,112.27 473.58,110.36 472.04,109.13 474.01,109.05" fill="#1a2a10"/>
<polygon points="499.6,107.2 500.29,109.05 502.26,109.13 500.72,110.36 501.25,112.27 499.6,111.18 497.95,112.27 498.48,110.36 496.94,109.13 498.91,109.05" fill="#1a2a10"/>
<rect x="26.4" y="7.4" width="152" height="119.7" fill="none" stroke="#8a8a8a" stroke-width="0.6" />
<line x1="26.4" y1="127.1" x2="26.4" y2="125.6" stroke="#8a8a8a" stroke-width="0.5" />
<line x1="26.4" y1="7.4" x2="26.4" y2="8.9" stroke="#8a8a8a" stroke-width="0.5" />
<text x="26.4" y="134.9" font-family="Liberation Sans, sans-serif" font-size="4.45" text-anchor="middle" fill="#262626" font-weight="normal" >-0.05</text>
<line x1="56.8" y1="127.1" x2="56.8" y2="125.6" stroke="#8a8a8a" stroke-width="0.5" />
<line x1="56.8" y1="7.4" x2="56.8" y2="8.9" stroke="#8a8a8a" stroke-width="0.5" />
<text x="56.8" y="134.9" font-family="Liberation Sans, sans-serif" font-size="4.45" text-anchor="middle" fill="#262626" font-weight="normal" >0</text>
<line x1="87.2" y1="127.1" x2="87.2" y2="125.6" stroke="#8a8a8a" stroke-width="0.5" />
<line x1="87.2" y1="7.4" x2="87.2" y2="8.9" stroke="#8a8a8a" stroke-width="0.5" />
<text x="87.2" y="134.9" font-family="Liberation Sans, sans-serif" font-size="4.45" text-anchor="middle" fill="#262626" font-weight="normal" >0.05</text>
<line x1="117.6" y1="127.1" x2="117.6" y2="125.6" stroke="#8a8a8a" stroke-width="0.5" />
<line x1="117.6" y1="7.4" x2="117.6" y2="8.9" stroke="#8a8a8a" stroke-width="0.5" />
<text x="117.6" y="134.9" font-family="Liberation Sans, sans-serif" font-size="4.45" text-anchor="middle" fill="#262626" font-weight="normal" >0.1</text>
<line x1="148" y1="127.1" x2="148" y2="125.6" stroke="#8a8a8a" stroke-width="0.5" />
<line x1="148" y1="7.4" x2="148" y2="8.9" stroke="#8a8a8a" stroke-width="0.5" />
<text x="148" y="134.9" font-family="Liberation Sans, sans-serif" font-size="4.45" text-anchor="middle" fill="#262626" font-weight="normal" >0.15</text>
<line x1="178.4" y1="127.1" x2="178.4" y2="125.6" stroke="#8a8a8a" stroke-width="0.5" />
<line x1="178.4" y1="7.4" x2="178.4" y2="8.9" stroke="#8a8a8a" stroke-width="0.5" />
<text x="178.4" y="134.9" font-family="Liberation Sans, sans-serif" font-size="4.45" text-anchor="middle" fill="#262626" font-weight="normal" >0.2</text>
<line x1="26.4" y1="127.1" x2="27.9" y2="127.1" stroke="#8a8a8a" stroke-width="0.5" />
<line x1="178.4" y1="127.1" x2="176.9" y2="127.1" stroke="#8a8a8a" stroke-width="0.5" />
<text x="24" y="129.5" font-family="Liberation Sans, sans-serif" font-size="4.45" text-anchor="end" fill="#262626" font-weight="normal" >-0.05</text>
<line x1="26.4" y1="103.16" x2="27.9" y2="103.16" stroke="#8a8a8a" stroke-width="0.5" />
<line x1="178.4" y1="103.16" x2="176.9" y2="103.16" stroke="#8a8a8a" stroke-width="0.5" />
<text x="24" y="105.56" font-family="Liberation Sans, sans-serif" font-size="4.45" text-anchor="end" fill="#262626" font-weight="normal" >0</text>
<line x1="26.4" y1="79.22" x2="27.9" y2="79.22" stroke="#8a8a8a" stroke-width="0.5" />
<line x1="178.4" y1="79.22" x2="176.9" y2="79.22" stroke="#8a8a8a" stroke-width="0.5" />
<text x="24" y="81.62" font-family="Liberation Sans, sans-serif" font-size="4.45" text-anchor="end" fill="#262626" font-weight="normal" >0.05</text>
<line x1="26.4" y1="55.28" x2="27.9" y2="55.28" stroke="#8a8a8a" stroke-width="0.5" />
<line x1="178.4" y1="55.28" x2="176.9" y2="55.28" stroke="#8a8a8a" stroke-width="0.5" />
<text x="24" y="57.68" font-family="Liberation Sans, sans-serif" font-size="4.45" text-anchor="end" fill="#262626" font-weight="normal" >0.1</text>
<line x1="26.4" y1="31.34" x2="27.9" y2="31.34" stroke="#8a8a8a" stroke-width="0.5" />
<line x1="178.4" y1="31.34" x2="176.9" y2="31.34" stroke="#8a8a8a" stroke-width="0.5" />
<text x="24" y="33.74" font-family="Liberation Sans, sans-serif" font-size="4.45" text-anchor="end" fill="#262626" font-weight="normal" >0.15</text>
<line x1="26.4" y1="7.4" x2="27.9" y2="7.4" stroke="#8a8a8a" stroke-width="0.5" />
<line x1="178.4" y1="7.4" x2="176.9" y2="7.4" stroke="#8a8a8a" stroke-width="0.5" />
<text x="24" y="9.8" font-family="Liberation Sans, sans-serif" font-size="4.45" text-anchor="end" fill="#262626" font-weight="normal" >0.2</text>
<rect x="208.3" y="7.4" width="152.2" height="119.6" fill="none" stroke="#8a8a8a" stroke-width="0.6" />
<line x1="208.3" y1="127" x2="208.3" y2="125.5" stroke="#8a8a8a" stroke-width="0.5" />
<line x1="208.3" y1="7.4" x2="208.3" y2="8.9" stroke="#8a8a8a" stroke-width="0.5" />
<text x="208.3" y="134.8" font-family="Liberation Sans, sans-serif" font-size="4.45" text-anchor="middle" fill="#262626" font-weight="normal" >0.3</text>
<line x1="227.33" y1="127" x2="227.33" y2="125.5" stroke="#8a8a8a" stroke-width="0.5" />
<line x1="227.33" y1="7.4" x2="227.33" y2="8.9" stroke="#8a8a8a" stroke-width="0.5" />
<text x="227.33" y="134.8" font-family="Liberation Sans, sans-serif" font-size="4.45" text-anchor="middle" fill="#262626" font-weight="normal" >0.4</text>
<line x1="246.35" y1="127" x2="246.35" y2="125.5" stroke="#8a8a8a" stroke-width="0.5" />
<line x1="246.35" y1="7.4" x2="246.35" y2="8.9" stroke="#8a8a8a" stroke-width="0.5" />
<text x="246.35" y="134.8" font-family="Liberation Sans, sans-serif" font-size="4.45" text-anchor="middle" fill="#262626" font-weight="normal" >0.5</text>
<line x1="265.38" y1="127" x2="265.38" y2="125.5" stroke="#8a8a8a" stroke-width="0.5" />
<line x1="265.38" y1="7.4" x2="265.38" y2="8.9" stroke="#8a8a8a" stroke-width="0.5" />
<text x="265.38" y="134.8" font-family="Liberation Sans, sans-serif" font-size="4.45" text-anchor="middle" fill="#262626" font-weight="normal" >0.6</text>
<line x1="284.4" y1="127" x2="284.4" y2="125.5" stroke="#8a8a8a" stroke-width="0.5" />
<line x1="284.4" y1="7.4" x2="284.4" y2="8.9" stroke="#8a8a8a" stroke-width="0.5" />
<text x="284.4" y="134.8" font-family="Liberation Sans, sans-serif" font-size="4.45" text-anchor="middle" fill="#262626" font-weight="normal" >0.7</text>
<line x1="303.43" y1="127" x2="303.43" y2="125.5" stroke="#8a8a8a" stroke-width="0.5" />
<line x1="303.43" y1="7.4" x2="303.43" y2="8.9" stroke="#8a8a8a" stroke-width="0.5" />
<text x="303.43" y="134.8" font-family="Liberation Sans, sans-serif" font-size="4.45" text-anchor="middle" fill="#262626" font-weight="normal" >0.8</text>
<line x1="322.45" y1="127" x2="322.45" y2="125.5" stroke="#8a8a8a" stroke-width="0.5" />
<line x1="322.45" y1="7.4" x2="322.45" y2="8.9" stroke="#8a8a8a" stroke-width="0.5" />
<text x="322.45" y="134.8" font-family="Liberation Sans, sans-serif" font-size="4.45" text-anchor="middle" fill="#262626" font-weight="normal" >0.9</text>
<line x1="341.48" y1="127" x2="341.48" y2="125.5" stroke="#8a8a8a" stroke-width="0.5" />
<line x1="341.48" y1="7.4" x2="341.48" y2="8.9" stroke="#8a8a8a" stroke-width="0.5" />
<text x="341.48" y="134.8" font-family="Liberation Sans, sans-serif" font-size="4.45" text-anchor="middle" fill="#262626" font-weight="normal" >1</text>
<line x1="360.5" y1="127" x2="360.5" y2="125.5" stroke="#8a8a8a" stroke-width="0.5" />
<line x1="360.5" y1="7.4" x2="360.5" y2="8.9" stroke="#8a8a8a" stroke-width="0.5" />
<text x="360.5" y="134.8" font-family="Liberation Sans, sans-serif" font-size="4.45" text-anchor="middle" fill="#262626" font-weight="normal" >1.1</text>
<line x1="208.3" y1="127" x2="209.8" y2="127" stroke="#8a8a8a" stroke-width="0.5" />
<line x1="360.5" y1="127" x2="359" y2="127" stroke="#8a8a8a" stroke-width="0.5" />
<text x="205.9" y="129.4" font-family="Liberation Sans, sans-serif" font-size="4.45" text-anchor="end" fill="#262626" font-weight="normal" >0.3</text>
<line x1="208.3" y1="109.91" x2="209.8" y2="109.91" stroke="#8a8a8a" stroke-width="0.5" />
<line x1="360.5" y1="109.91" x2="359" y2="109.91" stroke="#8a8a8a" stroke-width="0.5" />
<text x="205.9" y="112.31" font-family="Liberation Sans, sans-serif" font-size="4.45" text-anchor="end" fill="#262626" font-weight="normal" >0.4</text>
<line x1="208.3" y1="92.83" x2="209.8" y2="92.83" stroke="#8a8a8a" stroke-width="0.5" />
<line x1="360.5" y1="92.83" x2="359" y2="92.83" stroke="#8a8a8a" stroke-width="0.5" />
<text x="205.9" y="95.23" font-family="Liberation Sans, sans-serif" font-size="4.45" text-anchor="end" fill="#262626" font-weight="normal" >0.5</text>
<line x1="208.3" y1="75.74" x2="209.8" y2="75.74" stroke="#8a8a8a" stroke-width="0.5" />
<line x1="360.5" y1="75.74" x2="359" y2="75.74" stroke="#8a8a8a" stroke-width="0.5" />
<text x="205.9" y="78.14" font-family="Liberation Sans, sans-serif" font-size="4.45" text-anchor="end" fill="#262626" font-weight="normal" >0.6</text>
<line x1="208.3" y1="58.66" x2="209.8" y2="58.66" stroke="#8a8a8a" stroke-width="0.5" />
<line x1="360.5" y1="58.66" x2="359" y2="58.66" stroke="#8a8a8a" stroke-width="0.5" />
<text x="205.9" y="61.06" font-family="Liberation Sans, sans-serif" font-size="4.45" text-anchor="end" fill="#262626" font-weight="normal" >0.7</text>
<line x1="208.3" y1="41.57" x2="209.8" y2="41.57" stroke="#8a8a8a" stroke-width="0.5" />
<line x1="360.5" y1="41.57" x2="359" y2="41.57" stroke="#8a8a8a" stroke-width="0.5" />
<text x="205.9" y="43.97" font-family="Liberation Sans, sans-serif" font-size="4.45" text-anchor="end" fill="#262626" font-weight="normal" >0.8</text>
<line x1="208.3" y1="24.49" x2="209.8" y2="24.49" stroke="#8a8a8a" stroke-width="0.5" />
<line x1="360.5" y1="24.49" x2="359" y2="24.49" stroke="#8a8a8a" stroke-width="0.5" />
<text x="205.9" y="26.89" font-family="Liberation Sans, sans-serif" font-size="4.45" text-anchor="end" fill="#262626" font-weight="normal" >0.9</text>
<line x1="208.3" y1="7.4" x2="209.8" y2="7.4" stroke="#8a8a8a" stroke-width="0.5" />
<line x1="360.5" y1="7.4" x2="359" y2="7.4" stroke="#8a8a8a" stroke-width="0.5" />
<text x="205.9" y="9.8" font-family="Liberation Sans, sans-serif" font-size="4.45" text-anchor="end" fill="#262626" font-weight="normal" >1</text>
<rect x="388.5" y="7.4" width="152" height="119.6" fill="none" stroke="#8a8a8a" stroke-width="0.6" />
<line x1="388.5" y1="127" x2="388.5" y2="125.5" stroke="#8a8a8a" stroke-width="0.5" />
<line x1="388.5" y1="7.4" x2="388.5" y2="8.9" stroke="#8a8a8a" stroke-width="0.5" />
<text x="388.5" y="134.8" font-family="Liberation Sans, sans-serif" font-size="4.45" text-anchor="middle" fill="#262626" font-weight="normal" >-0.2</text>
<line x1="410.21" y1="127" x2="410.21" y2="125.5" stroke="#8a8a8a" stroke-width="0.5" />
<line x1="410.21" y1="7.4" x2="410.21" y2="8.9" stroke="#8a8a8a" stroke-width="0.5" />
<text x="410.21" y="134.8" font-family="Liberation Sans, sans-serif" font-size="4.45" text-anchor="middle" fill="#262626" font-weight="normal" >0</text>
<line x1="431.93" y1="127" x2="431.93" y2="125.5" stroke="#8a8a8a" stroke-width="0.5" />
<line x1="431.93" y1="7.4" x2="431.93" y2="8.9" stroke="#8a8a8a" stroke-width="0.5" />
<text x="431.93" y="134.8" font-family="Liberation Sans, sans-serif" font-size="4.45" text-anchor="middle" fill="#262626" font-weight="normal" >0.2</text>
<line x1="453.64" y1="127" x2="453.64" y2="125.5" stroke="#8a8a8a" stroke-width="0.5" />
<line x1="453.64" y1="7.4" x2="453.64" y2="8.9" stroke="#8a8a8a" stroke-width="0.5" />
<text x="453.64" y="134.8" font-family="Liberation Sans, sans-serif" font-size="4.45" text-anchor="middle" fill="#262626" font-weight="normal" >0.4</text>
<line x1="475.36" y1="127" x2="475.36" y2="125.5" stroke="#8a8a8a" stroke-width="0.5" />
<line x1="475.36" y1="7.4" x2="475.36" y2="8.9" stroke="#8a8a8a" stroke-width="0.5" />
<text x="475.36" y="134.8" font-family="Liberation Sans, sans-serif" font-size="4.45" text-anchor="middle" fill="#262626" font-weight="normal" >0.6</text>
<line x1="497.07" y1="127" x2="497.07" y2="125.5" stroke="#8a8a8a" stroke-width="0.5" />
<line x1="497.07" y1="7.4" x2="497.07" y2="8.9" stroke="#8a8a8a" stroke-width="0.5" />
<text x="497.07" y="134.8" font-family="Liberation Sans, sans-serif" font-size="4.45" text-anchor="middle" fill="#262626" font-weight="normal" >0.8</text>
<line x1="518.79" y1="127" x2="518.79" y2="125.5" stroke="#8a8a8a" stroke-width="0.5" />
<line x1="518.79" y1="7.4" x2="518.79" y2="8.9" stroke="#8a8a8a" stroke-width="0.5" />
<text x="518.79" y="134.8" font-family="Liberation Sans, sans-serif" font-size="4.45" text-anchor="middle" fill="#262626" font-weight="normal" >1</text>
<line x1="540.5" y1="127" x2="540.5" y2="125.5" stroke="#8a8a8a" stroke-width="0.5" />
<line x1="540.5" y1="7.4" x2="540.5" y2="8.9" stroke="#8a8a8a" stroke-width="0.5" />
<text x="540.5" y="134.8" font-family="Liberation Sans, sans-serif" font-size="4.45" text-anchor="middle" fill="#262626" font-weight="normal" >1.2</text>
<line x1="388.5" y1="127" x2="390" y2="127" stroke="#8a8a8a" stroke-width="0.5" />
<line x1="540.5" y1="127" x2="539" y2="127" stroke="#8a8a8a" stroke-width="0.5" />
<text x="386.1" y="129.4" font-family="Liberation Sans, sans-serif" font-size="4.45" text-anchor="end" fill="#262626" font-weight="normal" >-0.2</text>
<line x1="388.5" y1="109.91" x2="390" y2="109.91" stroke="#8a8a8a" stroke-width="0.5" />
<line x1="540.5" y1="109.91" x2="539" y2="109.91" stroke="#8a8a8a" stroke-width="0.5" />
<text x="386.1" y="112.31" font-family="Liberation Sans, sans-serif" font-size="4.45" text-anchor="end" fill="#262626" font-weight="normal" >0</text>
<line x1="388.5" y1="92.83" x2="390" y2="92.83" stroke="#8a8a8a" stroke-width="0.5" />
<line x1="540.5" y1="92.83" x2="539" y2="92.83" stroke="#8a8a8a" stroke-width="0.5" />
<text x="386.1" y="95.23" font-family="Liberation Sans, sans-serif" font-size="4.45" text-anchor="end" fill="#262626" font-weight="normal" >0.2</text>
<line x1="388.5" y1="75.74" x2="390" y2="75.74" stroke="#8a8a8a" stroke-width="0.5" />
<line x1="540.5" y1="75.74" x2="539" y2="75.74" stroke="#8a8a8a" stroke-width="0.5" />
<text x="386.1" y="78.14" font-family="Liberation Sans, sans-serif" font-size="4.45" text-anchor="end" fill="#262626" font-weight="normal" >0.4</text>
<line x1="388.5" y1="58.66" x2="390" y2="58.66" stroke="#8a8a8a" stroke-width="0.5" />
<line x1="540.5" y1="58.66" x2="539" y2="58.66" stroke="#8a8a8a" stroke-width="0.5" />
<text x="386.1" y="61.06" font-family="Liberation Sans, sans-serif" font-size="4.45" text-anchor="end" fill="#262626" font-weight="normal" >0.6</text>
<line x1="388.5" y1="41.57" x2="390" y2="41.57" stroke="#8a8a8a" stroke-width="0.5" />
<line x1="540.5" y1="41.57" x2="539" y2="41.57" stroke="#8a8a8a" stroke-width="0.5" />
<text x="386.1" y="43.97" font-family="Liberation Sans, sans-serif" font-size="4.45" text-anchor="end" fill="#262626" font-weight="normal" >0.8</text>
<line x1="388.5" y1="24.49" x2="390" y2="24.49" stroke="#8a8a8a" stroke-width="0.5" />
<line x1="540.5" y1="24.49" x2="539" y2="24.49" stroke="#8a8a8a" stroke-width="0.5" />
<text x="386.1" y="26.89" font-family="Liberation Sans, sans-serif" font-size="4.45" text-anchor="end" fill="#262626" font-weight="normal" >1</text>
<line x1="388.5" y1="7.4" x2="390" y2="7.4" stroke="#8a8a8a" stroke-width="0.5" />
<line x1="540.5" y1="7.4" x2="539" y2="7.4" stroke="#8a8a8a" stroke-width="0.5" />
<text x="386.1" y="9.8" font-family="Liberation Sans, sans-serif" font-size="4.45" text-anchor="end" fill="#262626" font-weight="normal" >1.2</text>
<rect x="113.1" y="13.1" width="59.2" height="8.7" fill="#fff" stroke="#8a8a8a" stroke-width="0.5" />
<circle cx="121.6" cy="17.45" r="1.3" fill="#1a5a9a"/>
<text transform="translate(170.8 19.85) scale(0.89 1)" font-family="Liberation Serif, serif" font-size="7.4" text-anchor="end" fill="#111" stroke="#111" stroke-width="0.08">Cluster Centers</text>
<rect x="297.1" y="115.5" width="59.7" height="8.5" fill="#fff" stroke="#8a8a8a" stroke-width="0.5" />
<polygon points="305.6,117.85 306.07,119.1 307.41,119.16 306.36,120 306.72,121.29 305.6,120.55 304.48,121.29 304.84,120 303.79,119.16 305.13,119.1" fill="#4a1858"/>
<text transform="translate(355.3 122.15) scale(0.89 1)" font-family="Liberation Serif, serif" font-size="7.4" text-anchor="end" fill="#111" stroke="#111" stroke-width="0.08">Cluster Centers</text>
<rect x="477.5" y="10.9" width="59.3" height="8.8" fill="#fff" stroke="#8a8a8a" stroke-width="0.5" />
<polygon points="486,13.4 486.47,14.65 487.81,14.71 486.76,15.55 487.12,16.84 486,16.1 484.88,16.84 485.24,15.55 484.19,14.71 485.53,14.65" fill="#2d4e10"/>
<text transform="translate(535.3 17.7) scale(0.89 1)" font-family="Liberation Serif, serif" font-size="7.4" text-anchor="end" fill="#111" stroke="#111" stroke-width="0.08">Cluster Centers</text>
<text x="272.5" y="157.9" font-family="Liberation Serif, serif" font-size="9.6" text-anchor="middle" fill="#111" font-weight="bold" >(a)</text>
<text x="272.7" y="322" font-family="Liberation Serif, serif" font-size="9.6" text-anchor="middle" fill="#111" font-weight="bold" >(b)</text>
<line x1="28.5" y1="277.39" x2="183" y2="277.39" stroke="#e6e6e6" stroke-width="0.5" />
<line x1="28.5" y1="264.08" x2="183" y2="264.08" stroke="#e6e6e6" stroke-width="0.5" />
<line x1="28.5" y1="250.77" x2="183" y2="250.77" stroke="#e6e6e6" stroke-width="0.5" />
<line x1="28.5" y1="237.46" x2="183" y2="237.46" stroke="#e6e6e6" stroke-width="0.5" />
<line x1="28.5" y1="224.14" x2="183" y2="224.14" stroke="#e6e6e6" stroke-width="0.5" />
<line x1="28.5" y1="210.83" x2="183" y2="210.83" stroke="#e6e6e6" stroke-width="0.5" />
<line x1="28.5" y1="197.52" x2="183" y2="197.52" stroke="#e6e6e6" stroke-width="0.5" />
<line x1="28.5" y1="184.21" x2="183" y2="184.21" stroke="#e6e6e6" stroke-width="0.5" />
<line x1="28.5" y1="170.9" x2="183" y2="170.9" stroke="#e6e6e6" stroke-width="0.5" />
<line x1="49.8" y1="170.9" x2="49.8" y2="290.7" stroke="#e6e6e6" stroke-width="0.5" />
<line x1="67.93" y1="170.9" x2="67.93" y2="290.7" stroke="#e6e6e6" stroke-width="0.5" />
<line x1="86.06" y1="170.9" x2="86.06" y2="290.7" stroke="#e6e6e6" stroke-width="0.5" />
<line x1="104.19" y1="170.9" x2="104.19" y2="290.7" stroke="#e6e6e6" stroke-width="0.5" />
<line x1="122.32" y1="170.9" x2="122.32" y2="290.7" stroke="#e6e6e6" stroke-width="0.5" />
<line x1="140.45" y1="170.9" x2="140.45" y2="290.7" stroke="#e6e6e6" stroke-width="0.5" />
<line x1="158.58" y1="170.9" x2="158.58" y2="290.7" stroke="#e6e6e6" stroke-width="0.5" />
<rect x="42.4" y="189.54" width="14.8" height="101.16" fill="#0072BD" stroke="#1a1a1a" stroke-width="0.35" />
<rect x="60.53" y="285.91" width="14.8" height="4.79" fill="#D95319" stroke="#1a1a1a" stroke-width="0.35" />
<rect x="78.66" y="276.86" width="14.8" height="13.84" fill="#EDB120" stroke="#1a1a1a" stroke-width="0.35" />
<rect x="96.79" y="262.48" width="14.8" height="28.22" fill="#7E2F8E" stroke="#1a1a1a" stroke-width="0.35" />
<rect x="114.92" y="269.4" width="14.8" height="21.3" fill="#77AC30" stroke="#1a1a1a" stroke-width="0.35" />
<rect x="133.05" y="239.05" width="14.8" height="51.65" fill="#A2142F" stroke="#1a1a1a" stroke-width="0.35" />
<rect x="151.18" y="245.44" width="14.8" height="45.26" fill="#FF00FF" stroke="#1a1a1a" stroke-width="0.35" />
<line x1="28.5" y1="170.9" x2="28.5" y2="290.7" stroke="#8a8a8a" stroke-width="0.6" />
<line x1="28.5" y1="290.7" x2="181.5" y2="290.7" stroke="#8a8a8a" stroke-width="0.6" />
<line x1="28.5" y1="290.7" x2="30" y2="290.7" stroke="#8a8a8a" stroke-width="0.5" />
<text x="26.5" y="293.1" font-family="Liberation Sans, sans-serif" font-size="4.45" text-anchor="end" fill="#262626" font-weight="normal" >0</text>
<line x1="28.5" y1="277.39" x2="30" y2="277.39" stroke="#8a8a8a" stroke-width="0.5" />
<text x="26.5" y="279.79" font-family="Liberation Sans, sans-serif" font-size="4.45" text-anchor="end" fill="#262626" font-weight="normal" >50</text>
<line x1="28.5" y1="264.08" x2="30" y2="264.08" stroke="#8a8a8a" stroke-width="0.5" />
<text x="26.5" y="266.48" font-family="Liberation Sans, sans-serif" font-size="4.45" text-anchor="end" fill="#262626" font-weight="normal" >100</text>
<line x1="28.5" y1="250.77" x2="30" y2="250.77" stroke="#8a8a8a" stroke-width="0.5" />
<text x="26.5" y="253.17" font-family="Liberation Sans, sans-serif" font-size="4.45" text-anchor="end" fill="#262626" font-weight="normal" >150</text>
<line x1="28.5" y1="237.46" x2="30" y2="237.46" stroke="#8a8a8a" stroke-width="0.5" />
<text x="26.5" y="239.86" font-family="Liberation Sans, sans-serif" font-size="4.45" text-anchor="end" fill="#262626" font-weight="normal" >200</text>
<line x1="28.5" y1="224.14" x2="30" y2="224.14" stroke="#8a8a8a" stroke-width="0.5" />
<text x="26.5" y="226.54" font-family="Liberation Sans, sans-serif" font-size="4.45" text-anchor="end" fill="#262626" font-weight="normal" >250</text>
<line x1="28.5" y1="210.83" x2="30" y2="210.83" stroke="#8a8a8a" stroke-width="0.5" />
<text x="26.5" y="213.23" font-family="Liberation Sans, sans-serif" font-size="4.45" text-anchor="end" fill="#262626" font-weight="normal" >300</text>
<line x1="28.5" y1="197.52" x2="30" y2="197.52" stroke="#8a8a8a" stroke-width="0.5" />
<text x="26.5" y="199.92" font-family="Liberation Sans, sans-serif" font-size="4.45" text-anchor="end" fill="#262626" font-weight="normal" >350</text>
<line x1="28.5" y1="184.21" x2="30" y2="184.21" stroke="#8a8a8a" stroke-width="0.5" />
<text x="26.5" y="186.61" font-family="Liberation Sans, sans-serif" font-size="4.45" text-anchor="end" fill="#262626" font-weight="normal" >400</text>
<line x1="28.5" y1="170.9" x2="30" y2="170.9" stroke="#8a8a8a" stroke-width="0.5" />
<text x="26.5" y="173.3" font-family="Liberation Sans, sans-serif" font-size="4.45" text-anchor="end" fill="#262626" font-weight="normal" >450</text>
<line x1="49.8" y1="290.7" x2="49.8" y2="289.2" stroke="#8a8a8a" stroke-width="0.5" />
<text x="49.8" y="298.1" font-family="Liberation Sans, sans-serif" font-size="4.45" text-anchor="middle" fill="#262626" font-weight="normal" >1</text>
<line x1="67.93" y1="290.7" x2="67.93" y2="289.2" stroke="#8a8a8a" stroke-width="0.5" />
<text x="67.93" y="298.1" font-family="Liberation Sans, sans-serif" font-size="4.45" text-anchor="middle" fill="#262626" font-weight="normal" >2</text>
<line x1="86.06" y1="290.7" x2="86.06" y2="289.2" stroke="#8a8a8a" stroke-width="0.5" />
<text x="86.06" y="298.1" font-family="Liberation Sans, sans-serif" font-size="4.45" text-anchor="middle" fill="#262626" font-weight="normal" >3</text>
<line x1="104.19" y1="290.7" x2="104.19" y2="289.2" stroke="#8a8a8a" stroke-width="0.5" />
<text x="104.19" y="298.1" font-family="Liberation Sans, sans-serif" font-size="4.45" text-anchor="middle" fill="#262626" font-weight="normal" >4</text>
<line x1="122.32" y1="290.7" x2="122.32" y2="289.2" stroke="#8a8a8a" stroke-width="0.5" />
<text x="122.32" y="298.1" font-family="Liberation Sans, sans-serif" font-size="4.45" text-anchor="middle" fill="#262626" font-weight="normal" >5</text>
<line x1="140.45" y1="290.7" x2="140.45" y2="289.2" stroke="#8a8a8a" stroke-width="0.5" />
<text x="140.45" y="298.1" font-family="Liberation Sans, sans-serif" font-size="4.45" text-anchor="middle" fill="#262626" font-weight="normal" >6</text>
<line x1="158.58" y1="290.7" x2="158.58" y2="289.2" stroke="#8a8a8a" stroke-width="0.5" />
<text x="158.58" y="298.1" font-family="Liberation Sans, sans-serif" font-size="4.45" text-anchor="middle" fill="#262626" font-weight="normal" >7</text>
<polyline points="49.8,189.54 67.93,285.91 86.06,276.86 104.19,262.48 122.32,269.4 140.45,239.05 158.58,245.44" fill="none" stroke="#FF00FF" stroke-width="1.1" stroke-dasharray="3,2"/>
<circle cx="49.8" cy="189.54" r="1.6" fill="none" stroke="#FF00FF" stroke-width="0.9"/>
<circle cx="67.93" cy="285.91" r="1.6" fill="none" stroke="#FF00FF" stroke-width="0.9"/>
<circle cx="86.06" cy="276.86" r="1.6" fill="none" stroke="#FF00FF" stroke-width="0.9"/>
<circle cx="104.19" cy="262.48" r="1.6" fill="none" stroke="#FF00FF" stroke-width="0.9"/>
<circle cx="122.32" cy="269.4" r="1.6" fill="none" stroke="#FF00FF" stroke-width="0.9"/>
<circle cx="140.45" cy="239.05" r="1.6" fill="none" stroke="#FF00FF" stroke-width="0.9"/>
<circle cx="158.58" cy="245.44" r="1.6" fill="none" stroke="#FF00FF" stroke-width="0.9"/>
<text x="49.8" y="186.74" font-family="Liberation Sans, sans-serif" font-size="4.45" text-anchor="middle" fill="#222" font-weight="normal" >380</text>
<text x="67.93" y="283.11" font-family="Liberation Sans, sans-serif" font-size="4.45" text-anchor="middle" fill="#222" font-weight="normal" >18</text>
<text x="86.06" y="274.06" font-family="Liberation Sans, sans-serif" font-size="4.45" text-anchor="middle" fill="#222" font-weight="normal" >52</text>
<text x="104.19" y="259.68" font-family="Liberation Sans, sans-serif" font-size="4.45" text-anchor="middle" fill="#222" font-weight="normal" >106</text>
<text x="122.32" y="266.6" font-family="Liberation Sans, sans-serif" font-size="4.45" text-anchor="middle" fill="#222" font-weight="normal" >80</text>
<text x="140.45" y="236.25" font-family="Liberation Sans, sans-serif" font-size="4.45" text-anchor="middle" fill="#222" font-weight="normal" >194</text>
<text x="158.58" y="242.64" font-family="Liberation Sans, sans-serif" font-size="4.45" text-anchor="middle" fill="#222" font-weight="normal" >170</text>
<text transform="translate(105.5 304.9) scale(0.934 1)" font-family="Liberation Serif, serif" font-size="7.6" text-anchor="middle" fill="#1a1a1a" stroke="#1a1a1a" stroke-width="0.05">The number of clusters</text>
<text transform="translate(15.5 231.4) rotate(-90) scale(0.957 1)" font-family="Liberation Serif, serif" font-size="6.9" text-anchor="middle" fill="#1a1a1a" stroke="#1a1a1a" stroke-width="0.06">The number of rows contained in each subblock</text>
<line x1="210.5" y1="279" x2="364.4" y2="279" stroke="#e6e6e6" stroke-width="0.5" />
<line x1="210.5" y1="267" x2="364.4" y2="267" stroke="#e6e6e6" stroke-width="0.5" />
<line x1="210.5" y1="255" x2="364.4" y2="255" stroke="#e6e6e6" stroke-width="0.5" />
<line x1="210.5" y1="243" x2="364.4" y2="243" stroke="#e6e6e6" stroke-width="0.5" />
<line x1="210.5" y1="231" x2="364.4" y2="231" stroke="#e6e6e6" stroke-width="0.5" />
<line x1="210.5" y1="219" x2="364.4" y2="219" stroke="#e6e6e6" stroke-width="0.5" />
<line x1="210.5" y1="207" x2="364.4" y2="207" stroke="#e6e6e6" stroke-width="0.5" />
<line x1="210.5" y1="195" x2="364.4" y2="195" stroke="#e6e6e6" stroke-width="0.5" />
<line x1="210.5" y1="183" x2="364.4" y2="183" stroke="#e6e6e6" stroke-width="0.5" />
<line x1="210.5" y1="171" x2="364.4" y2="171" stroke="#e6e6e6" stroke-width="0.5" />
<line x1="229.4" y1="171" x2="229.4" y2="291" stroke="#e6e6e6" stroke-width="0.5" />
<line x1="245.56" y1="171" x2="245.56" y2="291" stroke="#e6e6e6" stroke-width="0.5" />
<line x1="261.72" y1="171" x2="261.72" y2="291" stroke="#e6e6e6" stroke-width="0.5" />
<line x1="277.88" y1="171" x2="277.88" y2="291" stroke="#e6e6e6" stroke-width="0.5" />
<line x1="294.04" y1="171" x2="294.04" y2="291" stroke="#e6e6e6" stroke-width="0.5" />
<line x1="310.2" y1="171" x2="310.2" y2="291" stroke="#e6e6e6" stroke-width="0.5" />
<line x1="326.36" y1="171" x2="326.36" y2="291" stroke="#e6e6e6" stroke-width="0.5" />
<line x1="342.52" y1="171" x2="342.52" y2="291" stroke="#e6e6e6" stroke-width="0.5" />
<rect x="223" y="195" width="12.8" height="96" fill="#0072BD" stroke="#1a1a1a" stroke-width="0.35" />
<rect x="239.16" y="267" width="12.8" height="24" fill="#D95319" stroke="#1a1a1a" stroke-width="0.35" />
<rect x="255.32" y="273" width="12.8" height="18" fill="#EDB120" stroke="#1a1a1a" stroke-width="0.35" />
<rect x="271.48" y="243" width="12.8" height="48" fill="#7E2F8E" stroke="#1a1a1a" stroke-width="0.35" />
<rect x="287.64" y="267" width="12.8" height="24" fill="#77AC30" stroke="#1a1a1a" stroke-width="0.35" />
<rect x="303.8" y="225" width="12.8" height="66" fill="#4DBEEE" stroke="#1a1a1a" stroke-width="0.35" />
<rect x="319.96" y="267" width="12.8" height="24" fill="#A2142F" stroke="#1a1a1a" stroke-width="0.35" />
<rect x="336.12" y="261" width="12.8" height="30" fill="#0072BD" stroke="#1a1a1a" stroke-width="0.35" />
<line x1="210.5" y1="171" x2="210.5" y2="291" stroke="#8a8a8a" stroke-width="0.6" />
<line x1="210.5" y1="291" x2="362.9" y2="291" stroke="#8a8a8a" stroke-width="0.6" />
<line x1="210.5" y1="291" x2="212" y2="291" stroke="#8a8a8a" stroke-width="0.5" />
<text x="208.5" y="293.4" font-family="Liberation Sans, sans-serif" font-size="4.45" text-anchor="end" fill="#262626" font-weight="normal" >0</text>
<line x1="210.5" y1="279" x2="212" y2="279" stroke="#8a8a8a" stroke-width="0.5" />
<text x="208.5" y="281.4" font-family="Liberation Sans, sans-serif" font-size="4.45" text-anchor="end" fill="#262626" font-weight="normal" >2</text>
<line x1="210.5" y1="267" x2="212" y2="267" stroke="#8a8a8a" stroke-width="0.5" />
<text x="208.5" y="269.4" font-family="Liberation Sans, sans-serif" font-size="4.45" text-anchor="end" fill="#262626" font-weight="normal" >4</text>
<line x1="210.5" y1="255" x2="212" y2="255" stroke="#8a8a8a" stroke-width="0.5" />
<text x="208.5" y="257.4" font-family="Liberation Sans, sans-serif" font-size="4.45" text-anchor="end" fill="#262626" font-weight="normal" >6</text>
<line x1="210.5" y1="243" x2="212" y2="243" stroke="#8a8a8a" stroke-width="0.5" />
<text x="208.5" y="245.4" font-family="Liberation Sans, sans-serif" font-size="4.45" text-anchor="end" fill="#262626" font-weight="normal" >8</text>
<line x1="210.5" y1="231" x2="212" y2="231" stroke="#8a8a8a" stroke-width="0.5" />
<text x="208.5" y="233.4" font-family="Liberation Sans, sans-serif" font-size="4.45" text-anchor="end" fill="#262626" font-weight="normal" >10</text>
<line x1="210.5" y1="219" x2="212" y2="219" stroke="#8a8a8a" stroke-width="0.5" />
<text x="208.5" y="221.4" font-family="Liberation Sans, sans-serif" font-size="4.45" text-anchor="end" fill="#262626" font-weight="normal" >12</text>
<line x1="210.5" y1="207" x2="212" y2="207" stroke="#8a8a8a" stroke-width="0.5" />
<text x="208.5" y="209.4" font-family="Liberation Sans, sans-serif" font-size="4.45" text-anchor="end" fill="#262626" font-weight="normal" >14</text>
<line x1="210.5" y1="195" x2="212" y2="195" stroke="#8a8a8a" stroke-width="0.5" />
<text x="208.5" y="197.4" font-family="Liberation Sans, sans-serif" font-size="4.45" text-anchor="end" fill="#262626" font-weight="normal" >16</text>
<line x1="210.5" y1="183" x2="212" y2="183" stroke="#8a8a8a" stroke-width="0.5" />
<text x="208.5" y="185.4" font-family="Liberation Sans, sans-serif" font-size="4.45" text-anchor="end" fill="#262626" font-weight="normal" >18</text>
<line x1="210.5" y1="171" x2="212" y2="171" stroke="#8a8a8a" stroke-width="0.5" />
<text x="208.5" y="173.4" font-family="Liberation Sans, sans-serif" font-size="4.45" text-anchor="end" fill="#262626" font-weight="normal" >20</text>
<line x1="229.4" y1="291" x2="229.4" y2="289.5" stroke="#8a8a8a" stroke-width="0.5" />
<text x="229.4" y="298.4" font-family="Liberation Sans, sans-serif" font-size="4.45" text-anchor="middle" fill="#262626" font-weight="normal" >1</text>
<line x1="245.56" y1="291" x2="245.56" y2="289.5" stroke="#8a8a8a" stroke-width="0.5" />
<text x="245.56" y="298.4" font-family="Liberation Sans, sans-serif" font-size="4.45" text-anchor="middle" fill="#262626" font-weight="normal" >2</text>
<line x1="261.72" y1="291" x2="261.72" y2="289.5" stroke="#8a8a8a" stroke-width="0.5" />
<text x="261.72" y="298.4" font-family="Liberation Sans, sans-serif" font-size="4.45" text-anchor="middle" fill="#262626" font-weight="normal" >3</text>
<line x1="277.88" y1="291" x2="277.88" y2="289.5" stroke="#8a8a8a" stroke-width="0.5" />
<text x="277.88" y="298.4" font-family="Liberation Sans, sans-serif" font-size="4.45" text-anchor="middle" fill="#262626" font-weight="normal" >4</text>
<line x1="294.04" y1="291" x2="294.04" y2="289.5" stroke="#8a8a8a" stroke-width="0.5" />
<text x="294.04" y="298.4" font-family="Liberation Sans, sans-serif" font-size="4.45" text-anchor="middle" fill="#262626" font-weight="normal" >5</text>
<line x1="310.2" y1="291" x2="310.2" y2="289.5" stroke="#8a8a8a" stroke-width="0.5" />
<text x="310.2" y="298.4" font-family="Liberation Sans, sans-serif" font-size="4.45" text-anchor="middle" fill="#262626" font-weight="normal" >6</text>
<line x1="326.36" y1="291" x2="326.36" y2="289.5" stroke="#8a8a8a" stroke-width="0.5" />
<text x="326.36" y="298.4" font-family="Liberation Sans, sans-serif" font-size="4.45" text-anchor="middle" fill="#262626" font-weight="normal" >7</text>
<line x1="342.52" y1="291" x2="342.52" y2="289.5" stroke="#8a8a8a" stroke-width="0.5" />
<text x="342.52" y="298.4" font-family="Liberation Sans, sans-serif" font-size="4.45" text-anchor="middle" fill="#262626" font-weight="normal" >8</text>
<polyline points="229.4,195 245.56,267 261.72,273 277.88,243 294.04,267 310.2,225 326.36,267 342.52,261" fill="none" stroke="#D95319" stroke-width="1.1" stroke-dasharray="3,2"/>
<circle cx="229.4" cy="195" r="1.6" fill="none" stroke="#D95319" stroke-width="0.9"/>
<circle cx="245.56" cy="267" r="1.6" fill="none" stroke="#D95319" stroke-width="0.9"/>
<circle cx="261.72" cy="273" r="1.6" fill="none" stroke="#D95319" stroke-width="0.9"/>
<circle cx="277.88" cy="243" r="1.6" fill="none" stroke="#D95319" stroke-width="0.9"/>
<circle cx="294.04" cy="267" r="1.6" fill="none" stroke="#D95319" stroke-width="0.9"/>
<circle cx="310.2" cy="225" r="1.6" fill="none" stroke="#D95319" stroke-width="0.9"/>
<circle cx="326.36" cy="267" r="1.6" fill="none" stroke="#D95319" stroke-width="0.9"/>
<circle cx="342.52" cy="261" r="1.6" fill="none" stroke="#D95319" stroke-width="0.9"/>
<text x="229.4" y="192.2" font-family="Liberation Sans, sans-serif" font-size="4.45" text-anchor="middle" fill="#222" font-weight="normal" >16</text>
<text x="245.56" y="264.2" font-family="Liberation Sans, sans-serif" font-size="4.45" text-anchor="middle" fill="#222" font-weight="normal" >4</text>
<text x="261.72" y="270.2" font-family="Liberation Sans, sans-serif" font-size="4.45" text-anchor="middle" fill="#222" font-weight="normal" >3</text>
<text x="277.88" y="240.2" font-family="Liberation Sans, sans-serif" font-size="4.45" text-anchor="middle" fill="#222" font-weight="normal" >8</text>
<text x="294.04" y="264.2" font-family="Liberation Sans, sans-serif" font-size="4.45" text-anchor="middle" fill="#222" font-weight="normal" >4</text>
<text x="310.2" y="222.2" font-family="Liberation Sans, sans-serif" font-size="4.45" text-anchor="middle" fill="#222" font-weight="normal" >11</text>
<text x="326.36" y="264.2" font-family="Liberation Sans, sans-serif" font-size="4.45" text-anchor="middle" fill="#222" font-weight="normal" >4</text>
<text x="342.52" y="258.2" font-family="Liberation Sans, sans-serif" font-size="4.45" text-anchor="middle" fill="#222" font-weight="normal" >5</text>
<text transform="translate(287.2 304.9) scale(0.934 1)" font-family="Liberation Serif, serif" font-size="7.6" text-anchor="middle" fill="#1a1a1a" stroke="#1a1a1a" stroke-width="0.05">The number of clusters</text>
<text transform="translate(199.8 231.4) rotate(-90) scale(0.957 1)" font-family="Liberation Serif, serif" font-size="6.9" text-anchor="middle" fill="#1a1a1a" stroke="#1a1a1a" stroke-width="0.06">The number of rows contained in each subblock</text>
<line x1="390.6" y1="279" x2="544.5" y2="279" stroke="#e6e6e6" stroke-width="0.5" />
<line x1="390.6" y1="267" x2="544.5" y2="267" stroke="#e6e6e6" stroke-width="0.5" />
<line x1="390.6" y1="255" x2="544.5" y2="255" stroke="#e6e6e6" stroke-width="0.5" />
<line x1="390.6" y1="243" x2="544.5" y2="243" stroke="#e6e6e6" stroke-width="0.5" />
<line x1="390.6" y1="231" x2="544.5" y2="231" stroke="#e6e6e6" stroke-width="0.5" />
<line x1="390.6" y1="219" x2="544.5" y2="219" stroke="#e6e6e6" stroke-width="0.5" />
<line x1="390.6" y1="207" x2="544.5" y2="207" stroke="#e6e6e6" stroke-width="0.5" />
<line x1="390.6" y1="195" x2="544.5" y2="195" stroke="#e6e6e6" stroke-width="0.5" />
<line x1="390.6" y1="183" x2="544.5" y2="183" stroke="#e6e6e6" stroke-width="0.5" />
<line x1="390.6" y1="171" x2="544.5" y2="171" stroke="#e6e6e6" stroke-width="0.5" />
<line x1="410.2" y1="171" x2="410.2" y2="291" stroke="#e6e6e6" stroke-width="0.5" />
<line x1="426.3" y1="171" x2="426.3" y2="291" stroke="#e6e6e6" stroke-width="0.5" />
<line x1="442.4" y1="171" x2="442.4" y2="291" stroke="#e6e6e6" stroke-width="0.5" />
<line x1="458.5" y1="171" x2="458.5" y2="291" stroke="#e6e6e6" stroke-width="0.5" />
<line x1="474.6" y1="171" x2="474.6" y2="291" stroke="#e6e6e6" stroke-width="0.5" />
<line x1="490.7" y1="171" x2="490.7" y2="291" stroke="#e6e6e6" stroke-width="0.5" />
<line x1="506.8" y1="171" x2="506.8" y2="291" stroke="#e6e6e6" stroke-width="0.5" />
<line x1="522.9" y1="171" x2="522.9" y2="291" stroke="#e6e6e6" stroke-width="0.5" />
<rect x="403.9" y="192.84" width="12.6" height="98.16" fill="#0072BD" stroke="#1a1a1a" stroke-width="0.35" />
<rect x="420" y="290.16" width="12.6" height="0.84" fill="#D95319" stroke="#1a1a1a" stroke-width="0.35" />
<rect x="436.1" y="289.92" width="12.6" height="1.08" fill="#EDB120" stroke="#1a1a1a" stroke-width="0.35" />
<rect x="452.2" y="290.88" width="12.6" height="0.12" fill="#7E2F8E" stroke="#1a1a1a" stroke-width="0.35" />
<rect x="468.3" y="289.56" width="12.6" height="1.44" fill="#77AC30" stroke="#1a1a1a" stroke-width="0.35" />
<rect x="484.4" y="239.88" width="12.6" height="51.12" fill="#4DBEEE" stroke="#1a1a1a" stroke-width="0.35" />
<rect x="500.5" y="263.88" width="12.6" height="27.12" fill="#A2142F" stroke="#1a1a1a" stroke-width="0.35" />
<rect x="516.6" y="190.08" width="12.6" height="100.92" fill="#EDB120" stroke="#1a1a1a" stroke-width="0.35" />
<line x1="390.6" y1="171" x2="390.6" y2="291" stroke="#8a8a8a" stroke-width="0.6" />
<line x1="390.6" y1="291" x2="543" y2="291" stroke="#8a8a8a" stroke-width="0.6" />
<line x1="390.6" y1="291" x2="392.1" y2="291" stroke="#8a8a8a" stroke-width="0.5" />
<text x="388.6" y="293.4" font-family="Liberation Sans, sans-serif" font-size="4.45" text-anchor="end" fill="#262626" font-weight="normal" >0</text>
<line x1="390.6" y1="279" x2="392.1" y2="279" stroke="#8a8a8a" stroke-width="0.5" />
<text x="388.6" y="281.4" font-family="Liberation Sans, sans-serif" font-size="4.45" text-anchor="end" fill="#262626" font-weight="normal" >100</text>
<line x1="390.6" y1="267" x2="392.1" y2="267" stroke="#8a8a8a" stroke-width="0.5" />
<text x="388.6" y="269.4" font-family="Liberation Sans, sans-serif" font-size="4.45" text-anchor="end" fill="#262626" font-weight="normal" >200</text>
<line x1="390.6" y1="255" x2="392.1" y2="255" stroke="#8a8a8a" stroke-width="0.5" />
<text x="388.6" y="257.4" font-family="Liberation Sans, sans-serif" font-size="4.45" text-anchor="end" fill="#262626" font-weight="normal" >300</text>
<line x1="390.6" y1="243" x2="392.1" y2="243" stroke="#8a8a8a" stroke-width="0.5" />
<text x="388.6" y="245.4" font-family="Liberation Sans, sans-serif" font-size="4.45" text-anchor="end" fill="#262626" font-weight="normal" >400</text>
<line x1="390.6" y1="231" x2="392.1" y2="231" stroke="#8a8a8a" stroke-width="0.5" />
<text x="388.6" y="233.4" font-family="Liberation Sans, sans-serif" font-size="4.45" text-anchor="end" fill="#262626" font-weight="normal" >500</text>
<line x1="390.6" y1="219" x2="392.1" y2="219" stroke="#8a8a8a" stroke-width="0.5" />
<text x="388.6" y="221.4" font-family="Liberation Sans, sans-serif" font-size="4.45" text-anchor="end" fill="#262626" font-weight="normal" >600</text>
<line x1="390.6" y1="207" x2="392.1" y2="207" stroke="#8a8a8a" stroke-width="0.5" />
<text x="388.6" y="209.4" font-family="Liberation Sans, sans-serif" font-size="4.45" text-anchor="end" fill="#262626" font-weight="normal" >700</text>
<line x1="390.6" y1="195" x2="392.1" y2="195" stroke="#8a8a8a" stroke-width="0.5" />
<text x="388.6" y="197.4" font-family="Liberation Sans, sans-serif" font-size="4.45" text-anchor="end" fill="#262626" font-weight="normal" >800</text>
<line x1="390.6" y1="183" x2="392.1" y2="183" stroke="#8a8a8a" stroke-width="0.5" />
<text x="388.6" y="185.4" font-family="Liberation Sans, sans-serif" font-size="4.45" text-anchor="end" fill="#262626" font-weight="normal" >900</text>
<line x1="390.6" y1="171" x2="392.1" y2="171" stroke="#8a8a8a" stroke-width="0.5" />
<text x="388.6" y="173.4" font-family="Liberation Sans, sans-serif" font-size="4.45" text-anchor="end" fill="#262626" font-weight="normal" >1000</text>
<line x1="410.2" y1="291" x2="410.2" y2="289.5" stroke="#8a8a8a" stroke-width="0.5" />
<text x="410.2" y="298.4" font-family="Liberation Sans, sans-serif" font-size="4.45" text-anchor="middle" fill="#262626" font-weight="normal" >1</text>
<line x1="426.3" y1="291" x2="426.3" y2="289.5" stroke="#8a8a8a" stroke-width="0.5" />
<text x="426.3" y="298.4" font-family="Liberation Sans, sans-serif" font-size="4.45" text-anchor="middle" fill="#262626" font-weight="normal" >2</text>
<line x1="442.4" y1="291" x2="442.4" y2="289.5" stroke="#8a8a8a" stroke-width="0.5" />
<text x="442.4" y="298.4" font-family="Liberation Sans, sans-serif" font-size="4.45" text-anchor="middle" fill="#262626" font-weight="normal" >3</text>
<line x1="458.5" y1="291" x2="458.5" y2="289.5" stroke="#8a8a8a" stroke-width="0.5" />
<text x="458.5" y="298.4" font-family="Liberation Sans, sans-serif" font-size="4.45" text-anchor="middle" fill="#262626" font-weight="normal" >4</text>
<line x1="474.6" y1="291" x2="474.6" y2="289.5" stroke="#8a8a8a" stroke-width="0.5" />
<text x="474.6" y="298.4" font-family="Liberation Sans, sans-serif" font-size="4.45" text-anchor="middle" fill="#262626" font-weight="normal" >5</text>
<line x1="490.7" y1="291" x2="490.7" y2="289.5" stroke="#8a8a8a" stroke-width="0.5" />
<text x="490.7" y="298.4" font-family="Liberation Sans, sans-serif" font-size="4.45" text-anchor="middle" fill="#262626" font-weight="normal" >6</text>
<line x1="506.8" y1="291" x2="506.8" y2="289.5" stroke="#8a8a8a" stroke-width="0.5" />
<text x="506.8" y="298.4" font-family="Liberation Sans, sans-serif" font-size="4.45" text-anchor="middle" fill="#262626" font-weight="normal" >7</text>
<line x1="522.9" y1="291" x2="522.9" y2="289.5" stroke="#8a8a8a" stroke-width="0.5" />
<text x="522.9" y="298.4" font-family="Liberation Sans, sans-serif" font-size="4.45" text-anchor="middle" fill="#262626" font-weight="normal" >8</text>
<polyline points="410.2,192.84 426.3,290.16 442.4,289.92 458.5,290.88 474.6,289.56 490.7,239.88 506.8,263.88 522.9,190.08" fill="none" stroke="#FF00FF" stroke-width="1.1" stroke-dasharray="3,2"/>
<circle cx="410.2" cy="192.84" r="1.6" fill="none" stroke="#FF00FF" stroke-width="0.9"/>
<circle cx="426.3" cy="290.16" r="1.6" fill="none" stroke="#FF00FF" stroke-width="0.9"/>
<circle cx="442.4" cy="289.92" r="1.6" fill="none" stroke="#FF00FF" stroke-width="0.9"/>
<circle cx="458.5" cy="290.88" r="1.6" fill="none" stroke="#FF00FF" stroke-width="0.9"/>
<circle cx="474.6" cy="289.56" r="1.6" fill="none" stroke="#FF00FF" stroke-width="0.9"/>
<circle cx="490.7" cy="239.88" r="1.6" fill="none" stroke="#FF00FF" stroke-width="0.9"/>
<circle cx="506.8" cy="263.88" r="1.6" fill="none" stroke="#FF00FF" stroke-width="0.9"/>
<circle cx="522.9" cy="190.08" r="1.6" fill="none" stroke="#FF00FF" stroke-width="0.9"/>
<text x="410.2" y="190.04" font-family="Liberation Sans, sans-serif" font-size="4.45" text-anchor="middle" fill="#222" font-weight="normal" >818</text>
<text x="426.3" y="287.36" font-family="Liberation Sans, sans-serif" font-size="4.45" text-anchor="middle" fill="#222" font-weight="normal" >7</text>
<text x="442.4" y="287.12" font-family="Liberation Sans, sans-serif" font-size="4.45" text-anchor="middle" fill="#222" font-weight="normal" >9</text>
<text x="458.5" y="288.08" font-family="Liberation Sans, sans-serif" font-size="4.45" text-anchor="middle" fill="#222" font-weight="normal" >1</text>
<text x="474.6" y="286.76" font-family="Liberation Sans, sans-serif" font-size="4.45" text-anchor="middle" fill="#222" font-weight="normal" >12</text>
<text x="490.7" y="237.08" font-family="Liberation Sans, sans-serif" font-size="4.45" text-anchor="middle" fill="#222" font-weight="normal" >426</text>
<text x="506.8" y="261.08" font-family="Liberation Sans, sans-serif" font-size="4.45" text-anchor="middle" fill="#222" font-weight="normal" >226</text>
<text x="522.9" y="187.28" font-family="Liberation Sans, sans-serif" font-size="4.45" text-anchor="middle" fill="#222" font-weight="normal" >841</text>
<text transform="translate(467.3 304.9) scale(0.934 1)" font-family="Liberation Serif, serif" font-size="7.6" text-anchor="middle" fill="#1a1a1a" stroke="#1a1a1a" stroke-width="0.05">The number of clusters</text>
<text transform="translate(375 231.4) rotate(-90) scale(0.957 1)" font-family="Liberation Serif, serif" font-size="6.9" text-anchor="middle" fill="#1a1a1a" stroke="#1a1a1a" stroke-width="0.06">The number of rows contained in each subblock</text>
</svg></body></html>
